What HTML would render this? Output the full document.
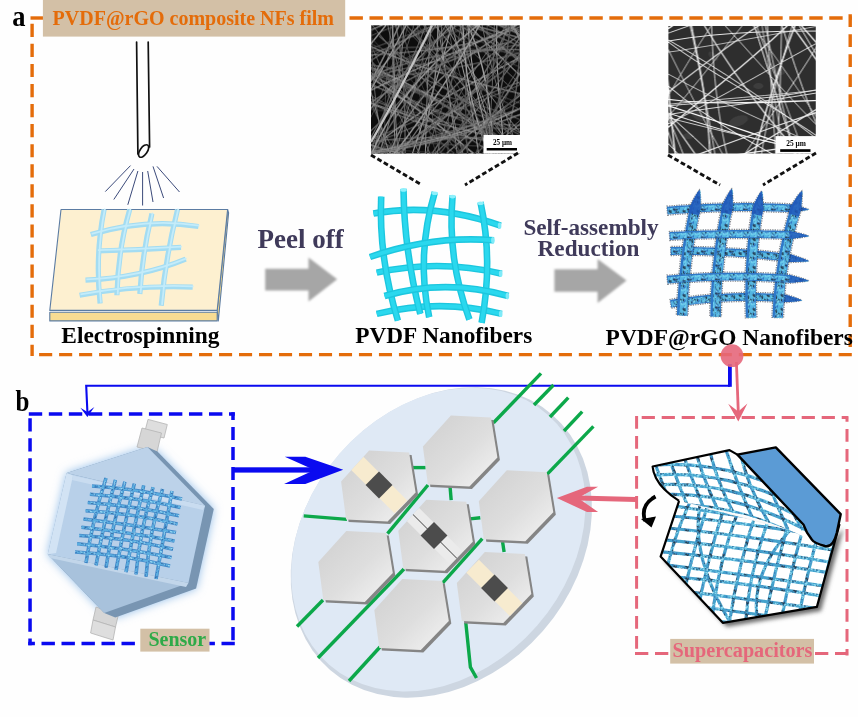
<!DOCTYPE html>
<html><head><meta charset="utf-8">
<style>
html,body{margin:0;padding:0;background:#fefefe;}
svg{display:block;will-change:transform;}
text{font-family:"Liberation Serif",serif;font-weight:bold;}
</style></head>
<body>
<svg width="858" height="717" viewBox="0 0 858 717">
<defs>
 <filter id="blur08" x="-30%" y="-30%" width="160%" height="160%"><feGaussianBlur stdDeviation="0.8"/></filter>
 <filter id="blur05" x="-30%" y="-30%" width="160%" height="160%"><feGaussianBlur stdDeviation="0.5"/></filter>
 <filter id="blur3" x="-30%" y="-30%" width="160%" height="160%"><feGaussianBlur stdDeviation="5"/></filter>
 <filter id="blur2" x="-30%" y="-30%" width="160%" height="160%"><feGaussianBlur stdDeviation="2"/></filter>
 <linearGradient id="hexg" x1="0" y1="0" x2="1" y2="1">
   <stop offset="0" stop-color="#cfcfcf"/><stop offset="0.55" stop-color="#dedede"/><stop offset="1" stop-color="#f4f4f4"/>
 </linearGradient>
 <linearGradient id="arrowg" x1="0" y1="0" x2="0" y2="1">
   <stop offset="0" stop-color="#a9a9a9"/><stop offset="1" stop-color="#a3a3a3"/>
 </linearGradient>
</defs>
<rect width="858" height="717" fill="#fefefe"/>

<g stroke="#e46c0a" stroke-width="3.4" fill="none">
 <line x1="30.5" y1="18" x2="43" y2="18"/>
 <line x1="349.5" y1="18" x2="851.8" y2="18" stroke-dasharray="13.4 6.59"/>
 <line x1="32.1" y1="23.8" x2="32.1" y2="355.9" stroke-dasharray="13.2 6.86"/>
 <line x1="39.1" y1="354.6" x2="851.8" y2="354.6" stroke-dasharray="13.1 6.89"/>
 <line x1="850.2" y1="14.3" x2="850.2" y2="347.7" stroke-dasharray="12.6 7.4"/>
</g>
<text x="12.3" y="25.9" font-size="26.5" transform="translate(12.3 25.9) scale(1 1.12) translate(-12.3 -25.9)" fill="#000">a</text>
<rect x="42.9" y="0" width="302.3" height="36.6" fill="#d3c0a6"/>
<text x="52.6" y="24.9" font-size="20" fill="#e46c0a">PVDF@rGO composite NFs film</text>

<g stroke="#111" stroke-width="1.7" fill="none" stroke-linecap="round">
 <line x1="136.6" y1="42" x2="137.9" y2="154"/>
 <line x1="148.2" y1="42" x2="149.6" y2="147"/>
 <ellipse cx="143.6" cy="151" rx="7.2" ry="3.6" transform="rotate(-55 143.6 151)"/>
</g>
<g stroke="#3b4a7a" stroke-width="1" fill="none">
 <line x1="130.5" y1="165.6" x2="105.3" y2="191.6"/>
 <line x1="134" y1="169" x2="113.8" y2="199.5"/>
 <line x1="137.9" y1="171" x2="127.8" y2="204.8"/>
 <line x1="142.6" y1="172" x2="142.6" y2="205.5"/>
 <line x1="147.7" y1="171" x2="153" y2="202"/>
 <line x1="153" y1="166.4" x2="163.6" y2="198"/>
 <line x1="157" y1="166.4" x2="179.5" y2="192"/>
</g>

<g stroke="#5b7ca3" stroke-width="1.1" stroke-linejoin="round">
 <polygon points="227.6,209.5 228.6,213 218.3,321 217.2,310.4" fill="#f5d887"/>
 <polygon points="49.8,312.3 217.2,312.3 217.2,320.9 49.8,320.9" fill="#f8dc93"/>
 <polygon points="61,209.5 227.6,209.5 217.2,310.4 49.8,310.4" fill="#fdf0d0"/>
</g>
<g stroke="#a3dcf2" stroke-width="5.2" fill="none" stroke-linecap="butt" filter="url(#blur05)">
 <path d="M104.1,209.5 Q95,255 100.1,303.4"/>
 <path d="M129.7,209.5 Q118,250 116.9,295.2"/>
 <path d="M151.9,213.6 Q142,255 139.8,294"/>
 <path d="M177.5,209.5 Q165,260 161.2,305.7"/>
 <path d="M90.8,234.6 Q145,218 198.5,226.5"/>
 <path d="M97.1,251 Q140,250 181,247.4"/>
 <path d="M85.5,280.1 Q140,278 185.7,259.1"/>
 <path d="M79.6,295.2 Q135,285 192.7,287.1"/>
</g>
<g stroke="#c4ecfa" stroke-width="1.8" fill="none" transform="translate(0.8 -0.8)" filter="url(#blur05)">
 <path d="M104.1,209.5 Q95,255 100.1,303.4"/>
 <path d="M129.7,209.5 Q118,250 116.9,295.2"/>
 <path d="M151.9,213.6 Q142,255 139.8,294"/>
 <path d="M177.5,209.5 Q165,260 161.2,305.7"/>
 <path d="M90.8,234.6 Q145,218 198.5,226.5"/>
 <path d="M97.1,251 Q140,250 181,247.4"/>
 <path d="M85.5,280.1 Q140,278 185.7,259.1"/>
 <path d="M79.6,295.2 Q135,285 192.7,287.1"/>
</g>

<polygon points="265.2,268.7 308.5,268.7 308.5,257.5 337.2,279.2 308.5,301.6 308.5,290.4 265.2,290.4" fill="#a6a6a6" filter="url(#blur08)"/>
<text x="257.5" y="247.5" font-size="27" fill="#3f3a5a">Peel off</text>
<polygon points="554.4,269.3 597.6,269.3 597.6,259 626.6,280.5 597.6,302.9 597.6,291.7 554.4,291.7" fill="#a6a6a6" filter="url(#blur08)"/>
<text x="523.4" y="234.5" font-size="23.2" fill="#3f3a5a">Self-assembly</text>
<text x="537.6" y="256.3" font-size="23.2" fill="#3f3a5a">Reduction</text>
<text x="61.3" y="342.5" font-size="23.4" fill="#000">Electrospinning</text>
<text x="355.2" y="343.2" font-size="23.3" fill="#000">PVDF Nanofibers</text>
<text x="605.6" y="344.7" font-size="23.4" fill="#000">PVDF@rGO Nanofibers</text>
<g filter="url(#blur05)">
<svg x="371" y="25.3" width="149" height="128.2" viewBox="0 0 149 128.2">
<rect width="149" height="128.2" fill="#0c0c0c"/>

<path d="M58.0,-49.8 C80.5,67.3 92.4,186.1 111.3,303.8" stroke="#959595" stroke-width="0.9" fill="none"/>
<path d="M-73.0,-14.7 C4.2,85.0 157.5,68.5 226.1,181.4" stroke="#787878" stroke-width="0.9" fill="none"/>
<path d="M-44.8,42.5 C87.7,14.5 165.1,174.3 298.4,143.0" stroke="#868686" stroke-width="0.9" fill="none"/>
<path d="M198.0,-166.2 C213.2,-31.3 58.9,34.5 63.1,165.0" stroke="#959595" stroke-width="0.7" fill="none"/>
<path d="M182.2,-37.2 C118.2,72.0 23.4,144.4 -91.9,192.4" stroke="#787878" stroke-width="1.4" fill="none"/>
<path d="M-174.4,84.5 C-55.0,73.1 63.9,95.1 183.1,89.6" stroke="#505050" stroke-width="0.7" fill="none"/>
<path d="M151.9,-118.0 C102.9,-5.4 54.9,107.9 -65.3,166.1" stroke="#505050" stroke-width="0.7" fill="none"/>
<path d="M78.0,-122.8 C53.7,10.3 105.2,119.0 188.1,217.4" stroke="#5c5c5c" stroke-width="0.9" fill="none"/>
<path d="M2.5,-49.8 C55.5,76.3 199.8,84.8 285.2,169.1" stroke="#5c5c5c" stroke-width="0.9" fill="none"/>
<path d="M172.8,-111.7 C96.4,-17.3 -51.8,-8.7 -101.6,117.5" stroke="#505050" stroke-width="0.7" fill="none"/>
<path d="M-53.6,-81.7 C57.1,-37.3 164.6,14.4 272.5,65.0" stroke="#a0a0a0" stroke-width="0.9" fill="none"/>
<path d="M-7.2,-77.9 C63.4,31.2 12.2,160.6 51.6,274.8" stroke="#5c5c5c" stroke-width="1.4" fill="none"/>
<path d="M-18.1,-143.3 C-52.6,-11.5 -0.5,98.2 70.0,203.3" stroke="#787878" stroke-width="0.7" fill="none"/>
<path d="M-84.4,6.7 C-2.6,95.6 138.0,109.1 197.7,226.5" stroke="#6a6a6a" stroke-width="0.9" fill="none"/>
<path d="M-41.0,-95.3 C-64.7,30.3 18.2,136.1 24.3,256.2" stroke="#5c5c5c" stroke-width="0.7" fill="none"/>
<path d="M-44.1,-116.7 C61.6,-58.6 134.4,42.2 239.3,101.3" stroke="#6a6a6a" stroke-width="1.4" fill="none"/>
<path d="M167.5,-42.7 C55.5,1.9 -25.3,100.1 -141.6,137.1" stroke="#6a6a6a" stroke-width="0.9" fill="none"/>
<path d="M133.1,-52.6 C49.8,33.0 -41.9,111.5 -99.5,219.0" stroke="#868686" stroke-width="1.4" fill="none"/>
<path d="M118.4,-164.0 C141.5,-30.4 -19.2,41.2 4.1,174.8" stroke="#6a6a6a" stroke-width="1.4" fill="none"/>
<path d="M5.6,-50.8 C108.9,15.3 203.2,90.0 252.8,207.6" stroke="#a0a0a0" stroke-width="0.7" fill="none"/>
<path d="M-93.9,17.7 C9.8,78.8 149.0,54.9 235.9,156.0" stroke="#6a6a6a" stroke-width="0.9" fill="none"/>
<path d="M127.7,-75.9 C68.6,33.5 4.7,138.0 -124.3,177.8" stroke="#787878" stroke-width="1.1" fill="none"/>
<path d="M171.8,-174.3 C210.6,-50.7 155.6,63.7 137.1,181.6" stroke="#787878" stroke-width="0.9" fill="none"/>
<path d="M195.9,-111.4 C181.9,8.7 154.8,124.9 96.3,232.1" stroke="#5c5c5c" stroke-width="0.7" fill="none"/>
<path d="M57.0,-170.4 C46.0,-48.8 33.0,72.2 -51.7,170.3" stroke="#5c5c5c" stroke-width="0.7" fill="none"/>
<path d="M25.9,-180.3 C-17.0,-53.4 28.1,60.4 78.4,173.5" stroke="#6a6a6a" stroke-width="1.1" fill="none"/>
<path d="M25.5,-36.3 C32.6,93.6 142.9,171.6 186.0,283.3" stroke="#505050" stroke-width="0.7" fill="none"/>
<path d="M249.4,8.3 C147.9,72.8 27.8,96.9 -75.8,157.0" stroke="#959595" stroke-width="0.7" fill="none"/>
<path d="M-75.1,92.6 C27.1,173.8 147.8,183.0 271.2,181.8" stroke="#868686" stroke-width="1.4" fill="none"/>
<path d="M98.5,-173.3 C86.2,-49.6 207.4,48.8 164.9,178.1" stroke="#959595" stroke-width="0.7" fill="none"/>
<path d="M18.2,-85.0 C25.7,34.0 16.5,153.9 39.6,272.0" stroke="#868686" stroke-width="1.1" fill="none"/>
<path d="M221.6,-45.9 C103.7,-22.7 -5.1,27.8 -117.2,68.4" stroke="#505050" stroke-width="1.1" fill="none"/>
<path d="M150.8,-34.5 C114.6,81.6 15.6,163.2 -21.4,278.8" stroke="#6a6a6a" stroke-width="1.4" fill="none"/>
<path d="M263.4,-83.7 C189.3,17.9 91.6,86.2 -28.3,123.1" stroke="#787878" stroke-width="0.9" fill="none"/>
<path d="M-88.8,39.9 C-0.6,133.8 115.9,165.7 236.6,188.2" stroke="#787878" stroke-width="0.9" fill="none"/>
<path d="M-98.0,65.1 C-2.3,150.0 131.3,132.5 237.3,189.3" stroke="#959595" stroke-width="1.4" fill="none"/>
<path d="M203.1,-38.5 C126.8,54.7 101.9,178.8 19.0,268.1" stroke="#505050" stroke-width="0.7" fill="none"/>
<path d="M-22.1,-46.6 C77.9,25.1 146.6,123.1 207.5,227.6" stroke="#a0a0a0" stroke-width="0.7" fill="none"/>
<path d="M135.1,-143.4 C50.0,-51.9 62.5,86.0 -18.2,179.7" stroke="#505050" stroke-width="0.9" fill="none"/>
<path d="M299.9,-99.4 C236.8,15.5 105.5,38.6 12.7,113.6" stroke="#a0a0a0" stroke-width="1.1" fill="none"/>
<path d="M283.0,-3.7 C165.2,15.2 52.4,71.9 -71.6,42.8" stroke="#5c5c5c" stroke-width="1.4" fill="none"/>
<path d="M15.6,-154.2 C-36.1,-39.9 -15.9,82.2 -23.4,201.3" stroke="#959595" stroke-width="0.9" fill="none"/>
<path d="M65.1,-44.6 C158.9,49.0 86.2,200.5 182.5,293.2" stroke="#a0a0a0" stroke-width="1.4" fill="none"/>
<path d="M-97.5,11.7 C-10.8,111.7 128.2,90.5 230.8,153.7" stroke="#959595" stroke-width="1.1" fill="none"/>
<path d="M79.7,-157.3 C62.4,-35.3 62.6,84.6 120.4,198.0" stroke="#a0a0a0" stroke-width="0.7" fill="none"/>
<path d="M2.0,24.3 C53.9,150.7 185.6,176.4 282.2,246.4" stroke="#505050" stroke-width="1.1" fill="none"/>
<path d="M-10.2,-138.7 C70.4,-50.9 199.4,-8.1 233.0,123.4" stroke="#787878" stroke-width="1.4" fill="none"/>
<path d="M205.8,-124.8 C88.1,-77.8 68.5,79.4 -61.1,113.2" stroke="#505050" stroke-width="0.7" fill="none"/>
<path d="M-106.5,14.4 C21.6,32.9 123.1,95.5 199.7,199.2" stroke="#959595" stroke-width="1.4" fill="none"/>
<path d="M249.5,100.3 C141.8,177.7 21.1,179.2 -103.0,161.0" stroke="#959595" stroke-width="1.1" fill="none"/>
<path d="M239.1,-76.1 C135.3,-17.5 4.6,-4.7 -69.3,104.8" stroke="#787878" stroke-width="1.1" fill="none"/>
<path d="M243.0,-34.6 C168.8,59.9 144.3,184.2 59.7,272.5" stroke="#6a6a6a" stroke-width="1.1" fill="none"/>
<path d="M64.6,-104.7 C37.1,11.3 -3.9,124.1 -16.7,243.5" stroke="#5c5c5c" stroke-width="0.7" fill="none"/>
<path d="M66.7,-69.9 C51.9,48.8 56.0,168.3 48.7,287.3" stroke="#a0a0a0" stroke-width="0.9" fill="none"/>
<path d="M-93.9,14.6 C9.6,101.7 127.2,121.6 256.0,88.1" stroke="#787878" stroke-width="0.9" fill="none"/>
<path d="M-3.6,-123.9 C-37.6,-1.4 -39.4,118.4 26.5,232.4" stroke="#868686" stroke-width="1.1" fill="none"/>
<path d="M-107.6,-65.5 C16.0,-57.2 107.6,41.0 229.4,54.2" stroke="#5c5c5c" stroke-width="0.7" fill="none"/>
<path d="M-118.2,-10.6 C-6.2,37.3 88.9,109.4 175.0,194.2" stroke="#959595" stroke-width="1.4" fill="none"/>
<path d="M-55.7,-49.7 C56.7,-9.7 181.2,-5.6 282.7,66.1" stroke="#6a6a6a" stroke-width="1.4" fill="none"/>
<path d="M-81.3,99.2 C36.4,124.1 156.0,122.0 275.3,125.3" stroke="#505050" stroke-width="0.9" fill="none"/>
<path d="M150.5,-97.4 C89.7,16.7 165.6,143.5 117.2,258.7" stroke="#a0a0a0" stroke-width="1.1" fill="none"/>
<path d="M213.9,-17.1 C82.4,-37.7 -1.6,92.3 -127.1,90.5" stroke="#6a6a6a" stroke-width="0.7" fill="none"/>
<path d="M-132.8,24.6 C-10.2,42.6 107.9,70.5 193.7,170.7" stroke="#505050" stroke-width="1.4" fill="none"/>
<path d="M133.4,-157.4 C99.4,-41.7 59.6,73.1 84.9,196.9" stroke="#5c5c5c" stroke-width="0.9" fill="none"/>
<path d="M89.4,-62.8 C82.4,57.7 9.5,163.6 11.5,286.2" stroke="#a0a0a0" stroke-width="1.1" fill="none"/>
<path d="M107.4,-160.8 C166.5,-41.1 160.5,78.1 104.3,196.8" stroke="#5c5c5c" stroke-width="1.4" fill="none"/>
<path d="M-139.0,-59.2 C-53.4,36.4 44.1,108.2 181.4,99.7" stroke="#a0a0a0" stroke-width="0.7" fill="none"/>
<path d="M57.1,-82.3 C84.8,47.8 52.6,162.7 -31.6,264.1" stroke="#868686" stroke-width="1.4" fill="none"/>
<path d="M9.0,-152.9 C53.6,-40.9 45.3,83.4 90.9,195.2" stroke="#5c5c5c" stroke-width="0.9" fill="none"/>
<path d="M-83.9,3.2 C23.7,56.3 139.9,95.8 217.3,196.0" stroke="#6a6a6a" stroke-width="0.7" fill="none"/>
<path d="M-0.3,-56.3 C-47.2,61.2 -38.4,180.8 -14.4,301.0" stroke="#505050" stroke-width="1.4" fill="none"/>
<path d="M61.1,-97.9 C56.9,23.3 -26.5,126.8 -16.6,251.2" stroke="#787878" stroke-width="0.7" fill="none"/>
<path d="M245.7,-17.9 C172.4,77.0 40.1,115.0 -2.7,239.4" stroke="#959595" stroke-width="1.1" fill="none"/>
<path d="M252.4,-69.3 C142.9,-12.9 115.1,134.7 -13.8,169.5" stroke="#787878" stroke-width="1.1" fill="none"/>
<path d="M-25.7,-135.2 C-33.4,-14.7 -19.7,103.7 9.3,220.6" stroke="#6a6a6a" stroke-width="1.1" fill="none"/>
<path d="M278.7,9.1 C157.4,7.7 42.2,40.8 -73.5,71.0" stroke="#959595" stroke-width="0.7" fill="none"/>
<path d="M98.2,-83.0 C112.2,38.7 144.8,153.7 219.8,253.3" stroke="#959595" stroke-width="0.7" fill="none"/>
<path d="M-159.0,-38.0 C-44.7,-3.3 63.8,46.8 175.6,88.2" stroke="#505050" stroke-width="0.9" fill="none"/>
<path d="M72.0,-131.5 C46.6,-10.9 -15.0,91.6 -88.4,188.1" stroke="#959595" stroke-width="1.4" fill="none"/>
<path d="M263.8,119.0 C143.3,112.1 22.2,100.5 -91.9,155.9" stroke="#5c5c5c" stroke-width="0.7" fill="none"/>
<path d="M86.2,-120.3 C66.1,14.3 122.8,120.4 211.1,214.7" stroke="#959595" stroke-width="0.7" fill="none"/>
<path d="M34.3,-142.3 C74.4,-29.1 112.3,84.5 112.8,206.6" stroke="#959595" stroke-width="1.1" fill="none"/>
<path d="M26.2,-50.8 C9.6,69.4 4.1,189.1 45.0,306.3" stroke="#5c5c5c" stroke-width="0.7" fill="none"/>
<path d="M224.0,-33.4 C142.4,54.4 27.1,103.4 -46.0,201.0" stroke="#5c5c5c" stroke-width="1.1" fill="none"/>
<path d="M124.3,9.5 C-3.8,50.4 -1.0,220.9 -127.3,263.6" stroke="#6a6a6a" stroke-width="1.4" fill="none"/>
<path d="M146.0,-36.1 C119.4,96.4 38.0,183.7 -81.2,240.0" stroke="#505050" stroke-width="1.4" fill="none"/>
<path d="M-8.5,-52.0 C86.0,26.2 233.4,-4.1 313.0,104.7" stroke="#868686" stroke-width="1.4" fill="none"/>
<path d="M-31.1,-21.9 C97.5,-23.8 198.0,46.6 302.2,107.6" stroke="#6a6a6a" stroke-width="1.4" fill="none"/>
<path d="M9.4,-100.8 C37.2,15.7 4.1,140.7 59.2,253.3" stroke="#959595" stroke-width="0.9" fill="none"/>
<path d="M290.9,-1.2 C181.0,70.0 47.0,-20.2 -62.7,51.8" stroke="#505050" stroke-width="1.1" fill="none"/>
<path d="M-23.2,-38.4 C33.1,70.3 164.8,114.5 209.3,233.3" stroke="#787878" stroke-width="0.9" fill="none"/>
<path d="M-115.9,34.8 C-49.9,149.9 51.6,212.5 180.0,235.6" stroke="#5c5c5c" stroke-width="0.7" fill="none"/>
<path d="M-144.9,-11.3 C-23.8,-72.4 94.6,-43.1 212.6,-0.7" stroke="#787878" stroke-width="0.7" fill="none"/>
<path d="M273.0,-110.3 C213.0,-0.8 54.6,6.7 15.6,137.9" stroke="#868686" stroke-width="1.4" fill="none"/>
<path d="M-32.0,-97.1 C66.8,-12.9 27.1,139.6 126.3,223.6" stroke="#505050" stroke-width="0.7" fill="none"/>
<path d="M99.5,-62.2 C82.0,61.6 146.4,171.7 158.4,290.5" stroke="#a0a0a0" stroke-width="1.1" fill="none"/>
<path d="M-45.0,-155.5 C-49.0,-27.4 22.9,73.4 76.0,181.0" stroke="#787878" stroke-width="0.9" fill="none"/>
<path d="M12.1,-169.8 C-12.2,-41.9 123.3,49.1 92.7,178.6" stroke="#5c5c5c" stroke-width="1.4" fill="none"/>
<path d="M107.8,-83.6 C111.5,38.8 22.2,142.2 36.1,266.7" stroke="#5c5c5c" stroke-width="1.1" fill="none"/>
<path d="M-38.3,-108.9 C72.2,-56.4 129.1,63.8 242.0,113.1" stroke="#a0a0a0" stroke-width="1.1" fill="none"/>
<path d="M-98.6,-95.8 C-48.0,16.7 66.2,77.5 126.9,181.8" stroke="#5c5c5c" stroke-width="1.1" fill="none"/>
<path d="M195.5,-15.4 C73.9,41.3 4.0,137.9 -23.1,267.7" stroke="#868686" stroke-width="1.1" fill="none"/>
<path d="M4.0,-43.8 C-12.3,78.5 32.9,192.8 50.8,310.7" stroke="#5c5c5c" stroke-width="1.1" fill="none"/>
<path d="M147.6,-1.4 C39.1,49.6 -78.4,85.3 -159.4,182.1" stroke="#a0a0a0" stroke-width="1.1" fill="none"/>
<path d="M225.0,7.5 C124.0,71.4 60.4,185.8 -62.3,220.4" stroke="#505050" stroke-width="1.4" fill="none"/>
<path d="M204.0,-72.1 C92.2,-30.5 -20.2,9.3 -128.9,58.6" stroke="#959595" stroke-width="1.1" fill="none"/>
<path d="M277.9,90.4 C165.7,163.6 40.1,109.0 -77.8,128.0" stroke="#505050" stroke-width="0.7" fill="none"/>
<path d="M-52.6,-149.6 C29.3,-59.1 123.5,24.4 125.1,160.8" stroke="#a0a0a0" stroke-width="0.9" fill="none"/>
<path d="M-42.5,-1.3 C62.2,62.9 185.2,69.0 298.4,106.4" stroke="#959595" stroke-width="1.1" fill="none"/>
<path d="M188.8,-80.4 C56.5,-48.5 -3.7,62.4 -75.5,160.5" stroke="#868686" stroke-width="1.4" fill="none"/>
<path d="M132.8,-82.6 C61.1,29.0 117.3,155.6 90.9,272.5" stroke="#505050" stroke-width="1.1" fill="none"/>
<path d="M286.4,34.2 C155.4,38.4 44.3,82.6 -34.0,193.0" stroke="#a0a0a0" stroke-width="0.7" fill="none"/>
<path d="M123.4,-69.4 C125.4,50.3 116.6,169.2 96.6,287.2" stroke="#6a6a6a" stroke-width="0.9" fill="none"/>
<path d="M280.4,-84.2 C232.2,34.3 146.6,117.4 34.6,175.5" stroke="#868686" stroke-width="1.1" fill="none"/>
<path d="M23.2,-75.7 C76.4,35.7 199.5,87.1 256.3,195.5" stroke="#6a6a6a" stroke-width="0.9" fill="none"/>
<path d="M289.3,-56.2 C175.3,-21.1 48.5,-31.7 -54.8,41.2" stroke="#787878" stroke-width="0.7" fill="none"/>
<path d="M-94.7,-26.8 C-5.9,53.9 101.5,108.7 196.2,181.2" stroke="#959595" stroke-width="0.9" fill="none"/>
<path d="M108.7,-126.2 C73.8,1.5 91.8,119.4 173.6,225.5" stroke="#a0a0a0" stroke-width="1.4" fill="none"/>
<path d="M232.1,-29.8 C97.0,-34.0 8.6,56.1 -88.2,129.1" stroke="#505050" stroke-width="0.7" fill="none"/>
<path d="M17.6,-181.2 C-38.5,-58.7 -11.5,59.2 37.1,175.9" stroke="#868686" stroke-width="1.1" fill="none"/>
<path d="M140.3,16.4 C12.6,47.0 -79.4,122.7 -140.7,237.6" stroke="#787878" stroke-width="1.4" fill="none"/>
<path d="M254.1,-26.7 C187.0,82.8 91.3,153.9 -33.0,186.4" stroke="#787878" stroke-width="0.9" fill="none"/>
<path d="M14.3,-63.6 C82.1,36.3 127.5,157.2 259.5,196.6" stroke="#787878" stroke-width="0.7" fill="none"/>
<path d="M-39.0,-91.3 C46.6,3.1 151.2,60.5 279.3,71.7" stroke="#505050" stroke-width="0.9" fill="none"/>
<path d="M-137.2,50.4 C-7.6,26.4 93.9,108.8 208.5,142.0" stroke="#868686" stroke-width="0.7" fill="none"/>
<path d="M266.2,92.1 C152.0,136.0 24.5,85.3 -87.9,142.0" stroke="#868686" stroke-width="0.9" fill="none"/>
<path d="M178.1,66.2 C73.5,136.5 -53.8,122.0 -167.4,158.7" stroke="#959595" stroke-width="1.4" fill="none"/>
<path d="M-26.7,-48.8 C90.7,-15.5 211.3,12.2 288.0,121.1" stroke="#787878" stroke-width="1.4" fill="none"/>
<path d="M91.0,-153.7 C74.8,-25.3 -48.9,40.8 -88.3,155.7" stroke="#a0a0a0" stroke-width="1.4" fill="none"/>
<path d="M247.7,-119.7 C169.7,-29.2 44.5,15.0 -2.5,135.8" stroke="#a0a0a0" stroke-width="1.4" fill="none"/>
<path d="M-46.0,-63.5 C88.1,-32.9 82.4,148.9 216.6,179.2" stroke="#505050" stroke-width="0.9" fill="none"/>
<path d="M186.0,28.6 C53.8,6.6 -51.7,67.9 -154.6,137.5" stroke="#787878" stroke-width="1.4" fill="none"/>
<path d="M35.8,-158.1 C32.1,-37.7 48.2,86.1 -26.4,194.0" stroke="#787878" stroke-width="1.1" fill="none"/>
<path d="M147.4,-136.2 C79.1,-28.3 156.6,108.8 77.3,214.5" stroke="#6a6a6a" stroke-width="0.7" fill="none"/>
<path d="M-67.2,-55.2 C59.2,-46.7 177.2,-19.0 260.3,88.3" stroke="#868686" stroke-width="0.7" fill="none"/>
<path d="M-174.5,80.9 C-58.3,109.0 40.3,190.9 165.4,191.8" stroke="#787878" stroke-width="1.4" fill="none"/>
<path d="M187.6,-20.3 C82.8,54.9 -50.6,7.9 -160.6,61.2" stroke="#868686" stroke-width="1.1" fill="none"/>
<path d="M268.7,54.0 C149.2,67.8 43.7,137.1 -78.1,141.5" stroke="#505050" stroke-width="0.9" fill="none"/>
<path d="M179.1,-163.9 C142.3,-48.0 83.5,55.6 6.6,149.4" stroke="#a0a0a0" stroke-width="1.4" fill="none"/>
<path d="M-115.1,6.9 C-15.7,84.1 95.2,128.0 222.7,124.1" stroke="#959595" stroke-width="0.9" fill="none"/>
<path d="M-43.8,-93.7 C66.1,-34.4 111.5,87.8 205.9,162.2" stroke="#959595" stroke-width="0.9" fill="none"/>
<path d="M64.8,-45.6 C-30.6,54.2 -18.4,179.7 -17.8,302.3" stroke="#6a6a6a" stroke-width="0.7" fill="none"/>
<path d="M93.0,-162.4 C79.6,-38.7 -9.6,53.1 -46.1,167.1" stroke="#a0a0a0" stroke-width="1.1" fill="none"/>
<path d="M55.6,-110.1 C121.0,-10.3 222.7,67.8 238.4,197.2" stroke="#a0a0a0" stroke-width="0.9" fill="none"/>
<path d="M-44.6,-50.9 C84.2,-14.4 90.2,154.1 217.1,192.8" stroke="#6a6a6a" stroke-width="1.1" fill="none"/>
<path d="M66.8,-57.6 C57.5,64.9 -60.7,151.4 -45.3,282.0" stroke="#6a6a6a" stroke-width="1.1" fill="none"/>
<path d="M175.5,-19.5 C102.8,92.1 3.2,157.9 -132.8,161.8" stroke="#6a6a6a" stroke-width="0.9" fill="none"/>
<path d="M1.8,-47.8 C83.2,40.9 126.7,155.7 205.0,246.5" stroke="#505050" stroke-width="0.7" fill="none"/>
<path d="M-97.4,-90.5 C5.4,-30.1 137.5,-23.6 216.7,80.3" stroke="#868686" stroke-width="0.9" fill="none"/>
<path d="M-75.8,-129.5 C-69.7,4.0 96.0,47.3 100.2,181.8" stroke="#505050" stroke-width="0.7" fill="none"/>
<path d="M237.8,-87.4 C161.6,4.2 127.6,131.2 8.4,186.9" stroke="#787878" stroke-width="1.4" fill="none"/>
<path d="M313.8,16.7 C204.9,67.0 97.6,121.7 -25.2,130.7" stroke="#868686" stroke-width="1.4" fill="none"/>
<path d="M162.3,-86.4 C28.6,-76.5 -28.6,58.4 -142.7,100.4" stroke="#959595" stroke-width="1.4" fill="none"/>
<path d="M-50.2,-48.8 C7.0,59.6 -6.9,186.2 38.4,297.7" stroke="#868686" stroke-width="1.4" fill="none"/>
<path d="M171.0,-135.3 C122.6,-25.6 156.5,110.2 63.1,205.6" stroke="#5c5c5c" stroke-width="1.4" fill="none"/>
<path d="M8.1,10.8 C96.7,90.6 218.8,135.3 267.0,257.5" stroke="#6a6a6a" stroke-width="1.1" fill="none"/>
<path d="M233.5,-37.2 C115.5,34.8 92.2,157.6 64.3,277.9" stroke="#505050" stroke-width="1.1" fill="none"/>
<path d="M224.5,36.5 C131.5,120.6 -7.3,102.1 -102.1,182.2" stroke="#959595" stroke-width="0.7" fill="none"/>
<path d="M177.3,54.0 C79.3,139.9 -51.8,120.2 -164.0,160.9" stroke="#868686" stroke-width="0.7" fill="none"/>
<path d="M6.2,-149.8 C114.3,-81.7 155.3,36.4 219.9,136.9" stroke="#868686" stroke-width="1.4" fill="none"/>
<path d="M-54.5,-52.6 C64.8,-25.9 163.5,44.1 268.5,101.0" stroke="#787878" stroke-width="1.1" fill="none"/>
<path d="M-79.5,-47.2 C-50.0,74.6 0.3,183.7 107.9,257.4" stroke="#6a6a6a" stroke-width="1.1" fill="none"/>
<path d="M268.6,-77.9 C171.9,-3.5 31.6,-21.1 -54.5,75.4" stroke="#868686" stroke-width="0.7" fill="none"/>
<path d="M-14.7,45.6 C109.0,71.1 180.3,184.1 292.0,229.4" stroke="#6a6a6a" stroke-width="0.7" fill="none"/>
<path d="M123.0,-48.1 C11.3,28.7 42.9,178.7 -39.5,270.5" stroke="#868686" stroke-width="0.9" fill="none"/>
</svg>
<path d="M371,142 C390,110 410,70 432,25.3" stroke="#c4c4c4" stroke-width="2.2" fill="none"/>
<svg x="668.4" y="26" width="147.60000000000002" height="127.5" viewBox="0 0 147.60000000000002 127.5">
<rect width="147.60000000000002" height="127.5" fill="#2e2e2e"/>
<ellipse cx="30" cy="90" rx="8" ry="4" fill="#3e3e3e" transform="rotate(30 30 90)"/><ellipse cx="70" cy="95" rx="10" ry="5" fill="#3e3e3e" transform="rotate(-20 70 95)"/><ellipse cx="45" cy="30" rx="6" ry="3" fill="#3e3e3e" transform="rotate(40 45 30)"/><ellipse cx="110" cy="45" rx="7" ry="4" fill="#3e3e3e" transform="rotate(10 110 45)"/><ellipse cx="90" cy="60" rx="5" ry="3" fill="#3e3e3e" transform="rotate(0 90 60)"/><ellipse cx="20" cy="110" rx="6" ry="3" fill="#3e3e3e" transform="rotate(0 20 110)"/>
<path d="M314.4,-26.1 C196.8,-13.5 82.2,17.1 -35.2,30.8" stroke="#d8d8d8" stroke-width="0.8" fill="none"/>
<path d="M-125.9,-50.4 C-68.0,56.3 52.3,107.0 110.6,213.4" stroke="#ffffff" stroke-width="1" fill="none"/>
<path d="M7.9,-117.5 C107.4,-46.0 163.4,60.5 230.5,158.1" stroke="#f2f2f2" stroke-width="1.3" fill="none"/>
<path d="M0.7,-63.4 C56.3,43.8 125.4,139.9 225.7,210.2" stroke="#d8d8d8" stroke-width="1.3" fill="none"/>
<path d="M166.7,-156.3 C141.0,-41.0 93.2,69.1 86.2,188.7" stroke="#f2f2f2" stroke-width="0.8" fill="none"/>
<path d="M121.5,-109.4 C103.3,7.4 125.7,128.5 84.2,242.8" stroke="#ffffff" stroke-width="0.8" fill="none"/>
<path d="M211.0,43.9 C100.1,92.9 -26.2,60.6 -137.0,110.2" stroke="#d8d8d8" stroke-width="1" fill="none"/>
<path d="M-113.9,-22.9 C-43.2,72.8 31.9,164.3 129.8,234.1" stroke="#f2f2f2" stroke-width="1" fill="none"/>
<path d="M260.7,84.7 C152.3,137.1 23.8,112.2 -82.0,174.2" stroke="#e6e6e6" stroke-width="1.3" fill="none"/>
<path d="M142.1,-39.6 C96.6,71.4 62.2,184.8 68.3,306.9" stroke="#ffffff" stroke-width="1.3" fill="none"/>
<path d="M-64.3,-61.4 C-25.7,50.2 42.4,151.7 49.7,274.0" stroke="#d8d8d8" stroke-width="1" fill="none"/>
<path d="M194.1,-89.7 C129.2,13.0 21.8,71.9 -60.2,156.9" stroke="#f2f2f2" stroke-width="1.3" fill="none"/>
<path d="M179.8,-46.0 C66.0,-3.9 -14.6,88.2 -115.0,150.5" stroke="#d8d8d8" stroke-width="1.3" fill="none"/>
<path d="M287.7,-6.4 C192.6,63.9 83.4,112.8 -7.6,189.3" stroke="#f2f2f2" stroke-width="1.3" fill="none"/>
<path d="M-58.4,-35.1 C22.4,54.0 147.1,84.6 225.1,177.3" stroke="#f2f2f2" stroke-width="1" fill="none"/>
<path d="M178.7,-118.9 C92.5,-37.5 31.8,66.3 -54.5,147.7" stroke="#e6e6e6" stroke-width="0.8" fill="none"/>
<path d="M299.6,112.3 C184.6,143.7 67.0,154.8 -51.6,159.3" stroke="#e6e6e6" stroke-width="0.8" fill="none"/>
<path d="M69.2,-174.3 C94.8,-58.5 124.5,55.9 176.8,163.2" stroke="#e6e6e6" stroke-width="1" fill="none"/>
<path d="M94.5,-107.3 C97.9,10.8 107.3,128.6 116.5,246.3" stroke="#d8d8d8" stroke-width="1" fill="none"/>
<path d="M-33.7,69.9 C80.1,101.4 188.6,151.9 307.6,164.8" stroke="#ffffff" stroke-width="1.3" fill="none"/>
<path d="M87.0,-126.2 C77.2,-6.6 125.7,107.3 121.4,226.4" stroke="#d8d8d8" stroke-width="0.8" fill="none"/>
<path d="M-77.5,-26.3 C30.4,24.8 127.9,91.4 217.6,169.6" stroke="#e6e6e6" stroke-width="1" fill="none"/>
<path d="M15.0,-60.4 C27.6,57.0 67.7,171.4 53.4,291.8" stroke="#ffffff" stroke-width="0.8" fill="none"/>
<path d="M-75.3,-56.6 C-2.7,40.5 3.2,166.9 67.7,267.5" stroke="#ffffff" stroke-width="0.8" fill="none"/>
<path d="M-75.9,-138.9 C-27.1,-31.2 22.1,76.2 82.6,178.0" stroke="#e6e6e6" stroke-width="0.8" fill="none"/>
<path d="M46.9,-134.5 C112.8,-32.2 95.4,98.5 160.9,200.9" stroke="#f2f2f2" stroke-width="0.8" fill="none"/>
<path d="M191.0,-55.6 C75.3,-30.8 -29.3,33.3 -149.8,41.3" stroke="#d8d8d8" stroke-width="1" fill="none"/>
<path d="M16.9,-144.6 C113.4,-69.4 144.1,55.1 229.6,138.7" stroke="#e6e6e6" stroke-width="1" fill="none"/>
<path d="M-65.6,-19.0 C-34.1,99.9 41.0,192.5 117.4,284.3" stroke="#f2f2f2" stroke-width="1.3" fill="none"/>
<path d="M275.0,34.6 C162.9,76.4 42.4,75.5 -72.7,102.3" stroke="#d8d8d8" stroke-width="1" fill="none"/>
<path d="M331.5,-1.3 C214.1,14.0 94.6,-6.6 -22.2,19.4" stroke="#e6e6e6" stroke-width="1" fill="none"/>
<path d="M66.9,-69.6 C94.2,45.3 145.8,153.9 155.9,273.3" stroke="#ffffff" stroke-width="1" fill="none"/>
<path d="M32.5,-72.3 C101.2,24.0 174.7,117.1 223.4,226.1" stroke="#d8d8d8" stroke-width="0.8" fill="none"/>
<path d="M-11.2,-63.3 C3.7,53.9 -3.2,175.0 49.2,285.7" stroke="#ffffff" stroke-width="1.3" fill="none"/>
<path d="M49.2,-158.5 C39.9,-39.2 35.1,79.7 78.3,194.6" stroke="#ffffff" stroke-width="0.8" fill="none"/>
<path d="M-90.7,-107.0 C-62.1,12.3 9.8,107.4 82.1,202.2" stroke="#d8d8d8" stroke-width="1.3" fill="none"/>
<path d="M31.9,-167.6 C65.5,-54.2 109.7,55.4 150.0,166.4" stroke="#e6e6e6" stroke-width="0.8" fill="none"/>
<path d="M-3.1,-116.2 C105.1,-58.1 165.2,49.5 250.8,130.9" stroke="#f2f2f2" stroke-width="1.3" fill="none"/>
<path d="M279.5,-43.4 C167.6,-3.2 70.6,66.9 -37.1,115.5" stroke="#d8d8d8" stroke-width="1" fill="none"/>
<path d="M-54.2,61.7 C61.6,97.9 183.1,53.9 299.2,86.4" stroke="#f2f2f2" stroke-width="1.3" fill="none"/>
<path d="M144.6,-117.5 C50.2,-39.6 3.1,71.8 -60.5,171.4" stroke="#e6e6e6" stroke-width="0.8" fill="none"/>
<path d="M271.4,41.7 C156.6,73.4 36.7,68.3 -79.6,89.2" stroke="#e6e6e6" stroke-width="0.8" fill="none"/>
<path d="M188.8,-68.3 C154.5,47.6 54.5,127.3 18.2,242.1" stroke="#ffffff" stroke-width="0.8" fill="none"/>
<path d="M201.6,70.6 C87.4,101.3 -19.9,152.9 -134.5,182.7" stroke="#e6e6e6" stroke-width="1.3" fill="none"/>
<path d="M-45.7,-179.1 C7.3,-70.7 45.1,41.6 41.0,164.4" stroke="#ffffff" stroke-width="0.8" fill="none"/>
<path d="M-126.6,43.9 C-14.4,81.5 95.9,126.4 216.0,133.9" stroke="#f2f2f2" stroke-width="1" fill="none"/>
<path d="M155.8,-95.4 C57.7,-29.4 -53.3,19.3 -127.9,116.7" stroke="#ffffff" stroke-width="1.3" fill="none"/>
<path d="M-152.7,45.4 C-41.0,85.0 74.1,111.5 190.2,134.3" stroke="#f2f2f2" stroke-width="0.8" fill="none"/>
<path d="M-33.4,27.0 C45.5,119.5 173.5,143.7 254.2,233.8" stroke="#ffffff" stroke-width="1" fill="none"/>
<path d="M-24.0,-77.1 C69.1,-3.5 130.9,102.5 231.2,168.7" stroke="#f2f2f2" stroke-width="0.8" fill="none"/>
<path d="M-6.1,-104.5 C26.7,10.3 56.4,125.5 39.6,246.8" stroke="#e6e6e6" stroke-width="0.8" fill="none"/>
<path d="M-73.0,2.2 C23.4,72.8 138.2,107.9 241.3,165.7" stroke="#e6e6e6" stroke-width="0.8" fill="none"/>
</svg>
</g>
<rect x="483.5" y="135" width="36.5" height="18.5" fill="#fefefe"/>
<text x="493" y="144.9" font-size="7.2" fill="#000">25 μm</text>
<rect x="486.7" y="148" width="30.3" height="2.5" fill="#000"/>
<rect x="775.5" y="136.1" width="40.5" height="17.4" fill="#fefefe"/>
<text x="786.3" y="146.2" font-size="7.4" fill="#000">25 μm</text>
<rect x="780.2" y="149.2" width="30.3" height="2.7" fill="#000"/>

<g stroke="#111" stroke-width="2.9" stroke-dasharray="4.8 2.6" fill="none">
 <line x1="371" y1="155" x2="422" y2="185"/>
 <line x1="518" y1="153" x2="465" y2="185"/>
 <line x1="668" y1="155" x2="720" y2="185"/>
 <line x1="816" y1="153" x2="763" y2="185"/>
</g>

<g filter="url(#blur05)">
<path d="M373.4,213.5 Q435,202.4 500.6,225.7" stroke="#1cc6de" stroke-width="6.6" fill="none"/><path d="M373.4,213.5 Q435,202.4 500.6,225.7" stroke="#2ad8ee" stroke-width="3.9599999999999995" fill="none"/>
<path d="M376.7,272.6 Q438.8,258.85 501.7,273.7" stroke="#1cc6de" stroke-width="6.6" fill="none"/><path d="M376.7,272.6 Q438.8,258.85 501.7,273.7" stroke="#2ad8ee" stroke-width="3.9599999999999995" fill="none"/>
<path d="M376.7,313.9 Q440.3,298.3 501.7,313.9" stroke="#1cc6de" stroke-width="6.6" fill="none"/><path d="M376.7,313.9 Q440.3,298.3 501.7,313.9" stroke="#2ad8ee" stroke-width="3.9599999999999995" fill="none"/>
<path d="M381.2,196.7 Q378.5,257.4 397.9,320.6" stroke="#1cc6de" stroke-width="6.6" fill="none"/><path d="M381.2,196.7 Q378.5,257.4 397.9,320.6" stroke="#2ad8ee" stroke-width="3.9599999999999995" fill="none"/>
<path d="M403.5,188.9 Q404.1,250.6 420.3,313.9" stroke="#1cc6de" stroke-width="6.6" fill="none"/><path d="M403.5,188.9 Q404.1,250.6 420.3,313.9" stroke="#2ad8ee" stroke-width="3.9599999999999995" fill="none"/>
<path d="M434.8,192.3 Q416,255.25 429.2,317.2" stroke="#1cc6de" stroke-width="6.6" fill="none"/><path d="M434.8,192.3 Q416,255.25 429.2,317.2" stroke="#2ad8ee" stroke-width="3.9599999999999995" fill="none"/>
<path d="M452.6,195.6 Q447,258.45 469.4,319.5" stroke="#1cc6de" stroke-width="6.6" fill="none"/><path d="M452.6,195.6 Q447,258.45 469.4,319.5" stroke="#2ad8ee" stroke-width="3.9599999999999995" fill="none"/>
<path d="M480.5,202.3 Q493.3,261.45 481.6,322.8" stroke="#1cc6de" stroke-width="6.6" fill="none"/><path d="M480.5,202.3 Q493.3,261.45 481.6,322.8" stroke="#2ad8ee" stroke-width="3.9599999999999995" fill="none"/>
<path d="M370,257 Q432,235.35 493.9,240.3" stroke="#1cc6de" stroke-width="6.6" fill="none"/><path d="M370,257 Q432,235.35 493.9,240.3" stroke="#2ad8ee" stroke-width="3.9599999999999995" fill="none"/>
<path d="M384.5,296 Q444.8,278.2 508.4,296" stroke="#1cc6de" stroke-width="6.6" fill="none"/><path d="M384.5,296 Q444.8,278.2 508.4,296" stroke="#2ad8ee" stroke-width="3.9599999999999995" fill="none"/>
<ellipse cx="403.5" cy="189.9" rx="3.3" ry="1.8" fill="#8ef0fb"/>
<ellipse cx="434.8" cy="193.3" rx="3.3" ry="1.8" fill="#8ef0fb"/>
<ellipse cx="452.6" cy="196.6" rx="3.3" ry="1.8" fill="#8ef0fb"/>
<ellipse cx="480.5" cy="203.3" rx="3.3" ry="1.8" fill="#8ef0fb"/>
<ellipse cx="499.6" cy="225.7" rx="1.8" ry="3.2" fill="#7eeaf8"/>
<ellipse cx="492.9" cy="240.3" rx="1.8" ry="3.2" fill="#7eeaf8"/>
<ellipse cx="500.7" cy="273.7" rx="1.8" ry="3.2" fill="#7eeaf8"/>
<ellipse cx="507.4" cy="296" rx="1.8" ry="3.2" fill="#7eeaf8"/>
<ellipse cx="500.7" cy="313.9" rx="1.8" ry="3.2" fill="#7eeaf8"/>
</g>
<pattern id="rgotex" width="14" height="14" patternUnits="userSpaceOnUse"><rect width="14" height="14" fill="#52b4e0"/><rect x="11.2" y="4.6" width="2.4" height="1" fill="#2a62b8" transform="rotate(43 11.2 4.6)"/><rect x="13.2" y="4.1" width="2.4" height="1" fill="#8ee4f8" transform="rotate(172 13.2 4.1)"/><rect x="3.3" y="7.8" width="2.4" height="1" fill="#1a2838" transform="rotate(119 3.3 7.8)"/><rect x="11.9" y="0.4" width="2.4" height="1" fill="#22344a" transform="rotate(172 11.9 0.4)"/><rect x="11.1" y="2.7" width="2.4" height="1" fill="#74d8f2" transform="rotate(180 11.1 2.7)"/><rect x="2.6" y="4.5" width="2.4" height="1" fill="#2a62b8" transform="rotate(16 2.6 4.5)"/><rect x="3.6" y="6.6" width="2.4" height="1" fill="#1a2838" transform="rotate(41 3.6 6.6)"/><rect x="1.1" y="2.8" width="2.4" height="1" fill="#74d8f2" transform="rotate(101 1.1 2.8)"/><rect x="8.3" y="7.5" width="2.4" height="1" fill="#2a62b8" transform="rotate(18 8.3 7.5)"/><rect x="13.7" y="10.4" width="2.4" height="1" fill="#2a62b8" transform="rotate(134 13.7 10.4)"/><rect x="1.2" y="8.1" width="2.4" height="1" fill="#2a62b8" transform="rotate(149 1.2 8.1)"/><rect x="11.0" y="13.6" width="2.4" height="1" fill="#74d8f2" transform="rotate(49 11.0 13.6)"/><rect x="10.9" y="7.7" width="2.4" height="1" fill="#8ee4f8" transform="rotate(22 10.9 7.7)"/><rect x="0.8" y="11.8" width="2.4" height="1" fill="#2a62b8" transform="rotate(175 0.8 11.8)"/><rect x="8.2" y="8.5" width="2.4" height="1" fill="#8ee4f8" transform="rotate(45 8.2 8.5)"/><rect x="6.6" y="10.3" width="2.4" height="1" fill="#74d8f2" transform="rotate(138 6.6 10.3)"/><rect x="0.2" y="13.8" width="2.4" height="1" fill="#74d8f2" transform="rotate(9 0.2 13.8)"/><rect x="0.6" y="5.0" width="2.4" height="1" fill="#1a2838" transform="rotate(178 0.6 5.0)"/><rect x="3.6" y="7.1" width="2.4" height="1" fill="#74d8f2" transform="rotate(101 3.6 7.1)"/><rect x="0.8" y="6.6" width="2.4" height="1" fill="#1a2838" transform="rotate(125 0.8 6.6)"/><rect x="2.1" y="7.4" width="2.4" height="1" fill="#74d8f2" transform="rotate(3 2.1 7.4)"/><rect x="12.8" y="12.9" width="2.4" height="1" fill="#8ee4f8" transform="rotate(135 12.8 12.9)"/><rect x="0.0" y="11.1" width="2.4" height="1" fill="#2a62b8" transform="rotate(26 0.0 11.1)"/><rect x="10.6" y="0.4" width="2.4" height="1" fill="#1a2838" transform="rotate(1 10.6 0.4)"/><rect x="9.3" y="6.5" width="2.4" height="1" fill="#74d8f2" transform="rotate(156 9.3 6.5)"/><rect x="1.4" y="12.0" width="2.4" height="1" fill="#22344a" transform="rotate(43 1.4 12.0)"/><rect x="10.8" y="1.2" width="2.4" height="1" fill="#1a2838" transform="rotate(30 10.8 1.2)"/><rect x="0.7" y="12.1" width="2.4" height="1" fill="#2a62b8" transform="rotate(121 0.7 12.1)"/><rect x="5.3" y="13.7" width="2.4" height="1" fill="#8ee4f8" transform="rotate(128 5.3 13.7)"/><rect x="5.8" y="7.1" width="2.4" height="1" fill="#1a2838" transform="rotate(108 5.8 7.1)"/><rect x="6.6" y="5.8" width="2.4" height="1" fill="#1a2838" transform="rotate(97 6.6 5.8)"/><rect x="6.4" y="2.6" width="2.4" height="1" fill="#1a2838" transform="rotate(107 6.4 2.6)"/><rect x="0.5" y="10.3" width="2.4" height="1" fill="#74d8f2" transform="rotate(2 0.5 10.3)"/><rect x="12.3" y="7.1" width="2.4" height="1" fill="#2a62b8" transform="rotate(122 12.3 7.1)"/><rect x="6.0" y="1.5" width="2.4" height="1" fill="#1a2838" transform="rotate(120 6.0 1.5)"/><rect x="6.4" y="6.8" width="2.4" height="1" fill="#2a62b8" transform="rotate(125 6.4 6.8)"/><rect x="5.6" y="12.3" width="2.4" height="1" fill="#2a62b8" transform="rotate(117 5.6 12.3)"/><rect x="3.5" y="12.1" width="2.4" height="1" fill="#2a62b8" transform="rotate(157 3.5 12.1)"/><rect x="7.3" y="4.4" width="2.4" height="1" fill="#1a2838" transform="rotate(35 7.3 4.4)"/><rect x="13.6" y="10.6" width="2.4" height="1" fill="#74d8f2" transform="rotate(180 13.6 10.6)"/><rect x="13.8" y="10.7" width="2.4" height="1" fill="#74d8f2" transform="rotate(118 13.8 10.7)"/><rect x="7.1" y="5.6" width="2.4" height="1" fill="#74d8f2" transform="rotate(156 7.1 5.6)"/><rect x="13.6" y="12.3" width="2.4" height="1" fill="#74d8f2" transform="rotate(152 13.6 12.3)"/><rect x="4.3" y="1.1" width="2.4" height="1" fill="#22344a" transform="rotate(122 4.3 1.1)"/><rect x="1.9" y="13.0" width="2.4" height="1" fill="#22344a" transform="rotate(125 1.9 13.0)"/><rect x="12.8" y="8.2" width="2.4" height="1" fill="#74d8f2" transform="rotate(101 12.8 8.2)"/><rect x="8.1" y="7.4" width="2.4" height="1" fill="#8ee4f8" transform="rotate(154 8.1 7.4)"/><rect x="1.7" y="9.7" width="2.4" height="1" fill="#2a62b8" transform="rotate(23 1.7 9.7)"/><rect x="2.3" y="13.6" width="2.4" height="1" fill="#8ee4f8" transform="rotate(11 2.3 13.6)"/><rect x="10.3" y="8.2" width="2.4" height="1" fill="#74d8f2" transform="rotate(68 10.3 8.2)"/><rect x="4.2" y="5.0" width="2.4" height="1" fill="#74d8f2" transform="rotate(116 4.2 5.0)"/><rect x="11.9" y="0.7" width="2.4" height="1" fill="#22344a" transform="rotate(135 11.9 0.7)"/><rect x="6.9" y="11.0" width="2.4" height="1" fill="#2a62b8" transform="rotate(96 6.9 11.0)"/><rect x="1.1" y="0.1" width="2.4" height="1" fill="#2a62b8" transform="rotate(6 1.1 0.1)"/><rect x="1.8" y="12.9" width="2.4" height="1" fill="#1a2838" transform="rotate(115 1.8 12.9)"/><rect x="11.4" y="13.1" width="2.4" height="1" fill="#2a62b8" transform="rotate(114 11.4 13.1)"/><rect x="2.4" y="12.5" width="2.4" height="1" fill="#1a2838" transform="rotate(16 2.4 12.5)"/><rect x="7.7" y="13.9" width="2.4" height="1" fill="#74d8f2" transform="rotate(70 7.7 13.9)"/><rect x="1.0" y="10.3" width="2.4" height="1" fill="#8ee4f8" transform="rotate(37 1.0 10.3)"/><rect x="10.8" y="4.5" width="2.4" height="1" fill="#22344a" transform="rotate(84 10.8 4.5)"/></pattern>
<g filter="url(#blur05)">
<polygon points="667.7,215.2 670.6,214.9 673.5,214.7 676.4,214.4 679.3,214.2 682.1,214.0 685.0,213.8 687.9,213.6 690.8,213.4 693.6,213.2 696.5,213.0 699.3,212.8 702.2,212.7 705.1,212.5 707.9,212.4 710.8,212.3 713.6,212.2 716.4,212.1 719.3,212.0 722.1,211.9 724.9,211.8 727.8,211.7 730.6,211.7 733.4,211.6 736.2,211.6 739.0,211.5 741.8,211.5 744.7,211.5 747.5,211.5 750.3,211.5 753.1,211.6 755.9,211.6 758.6,211.6 761.4,211.7 764.2,211.7 767.0,211.8 769.8,211.9 772.6,212.0 775.3,212.1 778.1,212.2 780.9,212.3 783.6,212.4 786.4,212.5 789.1,212.7 791.9,212.3 794.7,212.0 797.5,211.6 800.3,211.2 803.1,210.7 805.9,210.2 808.7,209.5 808.7,209.5 806.0,208.3 803.3,207.4 800.6,206.6 797.9,205.8 795.1,205.1 792.4,204.4 789.6,203.7 786.8,203.6 784.1,203.4 781.3,203.3 778.5,203.2 775.7,203.1 772.9,203.0 770.0,202.9 767.2,202.8 764.4,202.7 761.6,202.7 758.8,202.6 756.0,202.6 753.1,202.6 750.3,202.5 747.5,202.5 744.6,202.5 741.8,202.5 739.0,202.6 736.1,202.6 733.3,202.6 730.4,202.7 727.6,202.7 724.7,202.8 721.8,202.9 719.0,203.0 716.1,203.1 713.2,203.2 710.4,203.3 707.5,203.4 704.6,203.5 701.7,203.7 698.8,203.8 696.0,204.0 693.1,204.2 690.2,204.4 687.3,204.6 684.4,204.8 681.5,205.0 678.6,205.2 675.6,205.5 672.7,205.7 669.8,206.0 666.9,206.2" fill="none" stroke="#1c2430" stroke-width="1.3" stroke-dasharray="1.3 1.1" opacity="0.55"/><polygon points="667.7,214.6 670.6,214.3 673.4,214.1 676.3,213.8 679.2,213.6 682.1,213.4 685.0,213.2 687.8,213.0 690.7,212.8 693.6,212.6 696.5,212.4 699.3,212.2 702.2,212.1 705.0,211.9 707.9,211.8 710.7,211.7 713.6,211.6 716.4,211.5 719.3,211.4 722.1,211.3 724.9,211.2 727.7,211.1 730.6,211.1 733.4,211.0 736.2,211.0 739.0,210.9 741.8,210.9 744.7,210.9 747.5,210.9 750.3,210.9 753.1,211.0 755.9,211.0 758.7,211.0 761.4,211.1 764.2,211.1 767.0,211.2 769.8,211.3 772.6,211.4 775.3,211.5 778.1,211.6 780.9,211.7 783.7,211.8 786.4,211.9 789.2,212.1 792.0,211.8 794.7,211.5 797.5,211.2 800.3,210.9 803.1,210.5 805.9,210.1 808.7,209.5 808.7,209.5 806.0,208.5 803.3,207.7 800.6,206.9 797.8,206.2 795.1,205.5 792.4,204.9 789.6,204.3 786.8,204.2 784.0,204.0 781.2,203.9 778.4,203.8 775.6,203.7 772.8,203.6 770.0,203.5 767.2,203.4 764.4,203.3 761.6,203.3 758.8,203.2 756.0,203.2 753.1,203.2 750.3,203.1 747.5,203.1 744.6,203.1 741.8,203.1 739.0,203.2 736.1,203.2 733.3,203.2 730.4,203.3 727.6,203.3 724.7,203.4 721.9,203.5 719.0,203.6 716.1,203.7 713.3,203.8 710.4,203.9 707.5,204.0 704.6,204.1 701.8,204.3 698.9,204.4 696.0,204.6 693.1,204.8 690.2,205.0 687.3,205.2 684.4,205.4 681.5,205.6 678.6,205.8 675.7,206.1 672.8,206.3 669.9,206.6 666.9,206.8" fill="#2f78c8"/><polygon points="667.6,213.5 670.5,213.2 673.3,213.0 676.2,212.7 679.1,212.5 682.0,212.3 684.9,212.1 687.8,211.9 690.6,211.7 693.5,211.5 696.4,211.3 699.3,211.1 702.1,211.0 705.0,210.8 707.8,210.7 710.7,210.6 713.5,210.5 716.4,210.4 719.2,210.3 722.1,210.2 724.9,210.1 727.7,210.0 730.6,210.0 733.4,209.9 736.2,209.9 739.0,209.9 741.8,209.8 744.7,209.8 747.5,209.8 750.3,209.8 753.1,209.9 755.9,209.9 758.7,209.9 761.5,210.0 764.3,210.0 767.0,210.1 769.8,210.2 772.6,210.3 775.4,210.4 778.2,210.5 780.9,210.6 783.7,210.7 786.5,210.9 789.2,211.0 792.0,210.8 794.8,210.7 797.6,210.5 800.3,210.3 803.1,210.1 805.9,209.9 808.7,209.5 808.7,209.5 806.0,208.7 803.3,208.1 800.5,207.5 797.8,206.9 795.1,206.4 792.3,205.9 789.5,205.4 786.8,205.2 784.0,205.1 781.2,205.0 778.4,204.9 775.6,204.8 772.8,204.7 770.0,204.6 767.2,204.5 764.4,204.4 761.6,204.4 758.8,204.3 755.9,204.3 753.1,204.2 750.3,204.2 747.5,204.2 744.6,204.2 741.8,204.2 739.0,204.2 736.1,204.3 733.3,204.3 730.4,204.4 727.6,204.4 724.7,204.5 721.9,204.6 719.0,204.7 716.2,204.7 713.3,204.9 710.4,205.0 707.6,205.1 704.7,205.2 701.8,205.4 698.9,205.5 696.1,205.7 693.2,205.9 690.3,206.1 687.4,206.3 684.5,206.5 681.6,206.7 678.7,206.9 675.8,207.1 672.9,207.4 670.0,207.6 667.0,207.9" fill="url(#rgotex)" transform="translate(0.9 0.3)"/><polygon points="789.2,212.1 792.0,211.8 794.7,211.5 797.5,211.2 800.3,210.9 803.1,210.5 805.9,210.1 808.7,209.5 808.7,209.5 806.0,208.5 803.3,207.7 800.6,206.9 797.8,206.2 795.1,205.5 792.4,204.9 789.6,204.3" fill="#1f56b8" opacity="0.8"/>
<polygon points="670.8,255.5 673.5,255.5 676.3,255.4 679.0,255.4 681.8,255.4 684.5,255.4 687.3,255.4 690.0,255.5 692.8,255.5 695.6,255.5 698.3,255.6 701.1,255.6 703.8,255.7 706.6,255.8 709.3,255.9 712.1,256.0 714.8,256.1 717.6,256.2 720.3,256.3 723.0,256.5 725.8,256.6 728.5,256.8 731.3,256.9 734.0,257.1 736.8,257.3 739.5,257.5 742.3,257.7 745.0,257.9 747.8,258.1 750.5,258.4 753.2,258.6 756.0,258.9 758.7,259.1 761.5,259.4 764.2,259.7 766.9,260.0 769.7,260.3 772.4,260.6 775.2,260.9 777.9,261.2 780.6,261.5 783.4,261.9 786.1,262.2 788.8,262.6 791.7,262.5 794.5,262.3 797.3,262.2 800.1,262.0 803.0,261.8 805.8,261.5 808.7,261.0 808.7,261.0 806.1,259.6 803.5,258.5 800.8,257.5 798.1,256.5 795.4,255.5 792.8,254.6 790.1,253.7 787.3,253.3 784.5,253.0 781.8,252.6 779.0,252.3 776.2,251.9 773.4,251.6 770.7,251.3 767.9,251.0 765.1,250.7 762.4,250.4 759.6,250.2 756.8,249.9 754.0,249.6 751.3,249.4 748.5,249.2 745.7,248.9 743.0,248.7 740.2,248.5 737.4,248.3 734.6,248.1 731.8,248.0 729.1,247.8 726.3,247.6 723.5,247.5 720.7,247.3 718.0,247.2 715.2,247.1 712.4,247.0 709.6,246.9 706.8,246.8 704.1,246.7 701.3,246.6 698.5,246.6 695.7,246.5 692.9,246.5 690.1,246.5 687.4,246.4 684.6,246.4 681.8,246.4 679.0,246.4 676.2,246.4 673.4,246.5 670.6,246.5" fill="none" stroke="#1c2430" stroke-width="1.3" stroke-dasharray="1.3 1.1" opacity="0.55"/><polygon points="670.7,254.9 673.5,254.9 676.3,254.8 679.0,254.8 681.8,254.8 684.5,254.8 687.3,254.8 690.1,254.9 692.8,254.9 695.6,254.9 698.3,255.0 701.1,255.0 703.8,255.1 706.6,255.2 709.3,255.3 712.1,255.4 714.8,255.5 717.6,255.6 720.3,255.7 723.1,255.9 725.8,256.0 728.6,256.2 731.3,256.3 734.1,256.5 736.8,256.7 739.6,256.9 742.3,257.1 745.1,257.3 747.8,257.5 750.6,257.8 753.3,258.0 756.0,258.3 758.8,258.5 761.5,258.8 764.3,259.1 767.0,259.4 769.8,259.7 772.5,260.0 775.2,260.3 778.0,260.6 780.7,260.9 783.5,261.3 786.2,261.7 788.9,262.0 791.7,261.9 794.5,261.9 797.3,261.8 800.2,261.7 803.0,261.6 805.8,261.4 808.7,261.0 808.7,261.0 806.1,259.8 803.4,258.7 800.7,257.8 798.1,256.9 795.4,256.0 792.7,255.1 790.0,254.3 787.2,253.9 784.4,253.6 781.7,253.2 778.9,252.9 776.1,252.5 773.4,252.2 770.6,251.9 767.8,251.6 765.1,251.3 762.3,251.0 759.5,250.8 756.8,250.5 754.0,250.2 751.2,250.0 748.5,249.8 745.7,249.5 742.9,249.3 740.1,249.1 737.4,248.9 734.6,248.7 731.8,248.6 729.0,248.4 726.3,248.2 723.5,248.1 720.7,247.9 717.9,247.8 715.2,247.7 712.4,247.6 709.6,247.5 706.8,247.4 704.0,247.3 701.3,247.2 698.5,247.2 695.7,247.1 692.9,247.1 690.1,247.1 687.3,247.0 684.6,247.0 681.8,247.0 679.0,247.0 676.2,247.0 673.4,247.1 670.7,247.1" fill="#2f78c8"/><polygon points="670.7,253.8 673.5,253.8 676.3,253.7 679.0,253.7 681.8,253.7 684.5,253.7 687.3,253.7 690.1,253.8 692.8,253.8 695.6,253.8 698.3,253.9 701.1,253.9 703.9,254.0 706.6,254.1 709.4,254.2 712.1,254.3 714.9,254.4 717.6,254.5 720.4,254.6 723.1,254.8 725.9,254.9 728.6,255.1 731.4,255.2 734.1,255.4 736.9,255.6 739.6,255.8 742.4,256.0 745.1,256.2 747.9,256.4 750.6,256.7 753.4,256.9 756.1,257.2 758.9,257.4 761.6,257.7 764.4,258.0 767.1,258.3 769.9,258.6 772.6,258.9 775.4,259.2 778.1,259.5 780.8,259.9 783.6,260.2 786.3,260.6 789.1,260.9 791.9,261.0 794.7,261.0 797.4,261.1 800.2,261.1 803.0,261.2 805.9,261.1 808.7,261.0 808.7,261.0 806.0,260.0 803.4,259.1 800.7,258.3 798.0,257.5 795.3,256.8 792.5,256.1 789.8,255.4 787.1,255.0 784.3,254.6 781.5,254.3 778.8,254.0 776.0,253.6 773.3,253.3 770.5,253.0 767.7,252.7 765.0,252.4 762.2,252.1 759.4,251.8 756.7,251.6 753.9,251.3 751.1,251.1 748.4,250.8 745.6,250.6 742.8,250.4 740.1,250.2 737.3,250.0 734.5,249.8 731.7,249.6 729.0,249.5 726.2,249.3 723.4,249.2 720.7,249.0 717.9,248.9 715.1,248.8 712.3,248.7 709.6,248.6 706.8,248.5 704.0,248.4 701.2,248.3 698.5,248.3 695.7,248.2 692.9,248.2 690.1,248.1 687.3,248.1 684.6,248.1 681.8,248.1 679.0,248.1 676.2,248.1 673.4,248.2 670.7,248.2" fill="url(#rgotex)" transform="translate(0.9 0.3)"/><polygon points="788.9,262.0 791.7,261.9 794.5,261.9 797.3,261.8 800.2,261.7 803.0,261.6 805.8,261.4 808.7,261.0 808.7,261.0 806.1,259.8 803.4,258.7 800.7,257.8 798.1,256.9 795.4,256.0 792.7,255.1 790.0,254.3" fill="#1f56b8" opacity="0.8"/>
<polygon points="671.4,308.2 674.2,307.8 676.9,307.3 679.7,306.9 682.4,306.5 685.1,306.1 687.8,305.7 690.5,305.4 693.2,305.0 695.9,304.7 698.6,304.4 701.3,304.1 704.0,303.8 706.7,303.5 709.3,303.3 712.0,303.0 714.6,302.8 717.3,302.6 719.9,302.4 722.6,302.2 725.2,302.1 727.8,301.9 730.4,301.8 733.0,301.7 735.6,301.6 738.2,301.5 740.8,301.5 743.4,301.4 746.0,301.4 748.6,301.4 751.1,301.4 753.7,301.4 756.3,301.5 758.8,301.5 761.3,301.6 763.9,301.7 766.4,301.8 768.9,301.9 771.5,302.0 774.0,302.2 776.5,302.3 779.0,302.5 781.5,302.7 784.0,302.9 786.5,302.6 789.0,302.3 791.6,302.0 794.1,301.7 796.6,301.4 799.2,301.0 801.8,300.4 801.8,300.4 799.4,299.1 797.0,298.1 794.6,297.2 792.2,296.3 789.7,295.5 787.2,294.7 784.7,294.0 782.2,293.7 779.6,293.5 777.1,293.4 774.5,293.2 772.0,293.0 769.4,292.9 766.8,292.8 764.2,292.7 761.6,292.6 759.0,292.5 756.4,292.5 753.8,292.4 751.2,292.4 748.6,292.4 745.9,292.4 743.3,292.4 740.7,292.5 738.0,292.6 735.4,292.6 732.7,292.7 730.0,292.8 727.4,293.0 724.7,293.1 722.0,293.3 719.3,293.4 716.6,293.6 713.9,293.8 711.2,294.1 708.5,294.3 705.8,294.6 703.1,294.8 700.3,295.1 697.6,295.4 694.9,295.7 692.1,296.1 689.4,296.4 686.6,296.8 683.8,297.2 681.1,297.6 678.3,298.0 675.5,298.4 672.7,298.9 670.0,299.4" fill="none" stroke="#1c2430" stroke-width="1.3" stroke-dasharray="1.3 1.1" opacity="0.55"/><polygon points="671.3,307.6 674.1,307.2 676.8,306.7 679.6,306.3 682.3,305.9 685.0,305.5 687.8,305.1 690.5,304.8 693.2,304.4 695.9,304.1 698.6,303.8 701.3,303.5 703.9,303.2 706.6,302.9 709.3,302.7 711.9,302.4 714.6,302.2 717.2,302.0 719.9,301.8 722.5,301.6 725.2,301.5 727.8,301.3 730.4,301.2 733.0,301.1 735.6,301.0 738.2,300.9 740.8,300.9 743.4,300.8 746.0,300.8 748.6,300.8 751.1,300.8 753.7,300.8 756.3,300.9 758.8,300.9 761.4,301.0 763.9,301.1 766.4,301.2 769.0,301.3 771.5,301.4 774.0,301.6 776.5,301.7 779.0,301.9 781.5,302.1 784.0,302.3 786.5,302.1 789.1,301.9 791.6,301.7 794.1,301.4 796.7,301.2 799.2,300.9 801.8,300.4 801.8,300.4 799.4,299.3 797.0,298.3 794.6,297.5 792.1,296.7 789.7,296.0 787.2,295.2 784.7,294.6 782.2,294.3 779.6,294.1 777.0,294.0 774.5,293.8 771.9,293.6 769.3,293.5 766.8,293.4 764.2,293.3 761.6,293.2 759.0,293.1 756.4,293.1 753.8,293.0 751.2,293.0 748.6,293.0 745.9,293.0 743.3,293.0 740.7,293.1 738.0,293.2 735.4,293.2 732.7,293.3 730.1,293.4 727.4,293.6 724.7,293.7 722.0,293.9 719.4,294.0 716.7,294.2 714.0,294.4 711.3,294.7 708.6,294.9 705.9,295.1 703.1,295.4 700.4,295.7 697.7,296.0 694.9,296.3 692.2,296.7 689.4,297.0 686.7,297.4 683.9,297.8 681.2,298.2 678.4,298.6 675.6,299.0 672.8,299.5 670.1,300.0" fill="#2f78c8"/><polygon points="671.2,306.6 673.9,306.1 676.7,305.7 679.4,305.2 682.2,304.8 684.9,304.4 687.6,304.0 690.3,303.7 693.0,303.3 695.7,303.0 698.4,302.7 701.1,302.4 703.8,302.1 706.5,301.8 709.2,301.6 711.8,301.3 714.5,301.1 717.2,300.9 719.8,300.7 722.5,300.6 725.1,300.4 727.7,300.3 730.4,300.1 733.0,300.0 735.6,299.9 738.2,299.9 740.8,299.8 743.4,299.8 746.0,299.7 748.6,299.7 751.1,299.7 753.7,299.7 756.3,299.8 758.8,299.8 761.4,299.9 763.9,300.0 766.5,300.1 769.0,300.2 771.5,300.3 774.1,300.5 776.6,300.6 779.1,300.8 781.6,301.0 784.1,301.2 786.6,301.1 789.1,301.1 791.7,301.0 794.2,300.9 796.7,300.8 799.2,300.7 801.8,300.4 801.8,300.4 799.4,299.5 797.0,298.7 794.5,298.0 792.1,297.4 789.6,296.8 787.1,296.2 784.6,295.6 782.1,295.4 779.5,295.2 777.0,295.0 774.4,294.9 771.9,294.7 769.3,294.6 766.7,294.5 764.1,294.4 761.6,294.3 759.0,294.2 756.4,294.2 753.8,294.1 751.2,294.1 748.6,294.1 745.9,294.1 743.3,294.1 740.7,294.2 738.1,294.2 735.4,294.3 732.8,294.4 730.1,294.5 727.4,294.6 724.8,294.8 722.1,294.9 719.4,295.1 716.8,295.3 714.1,295.5 711.4,295.7 708.7,296.0 706.0,296.2 703.2,296.5 700.5,296.8 697.8,297.1 695.1,297.4 692.3,297.8 689.6,298.1 686.8,298.5 684.1,298.9 681.3,299.3 678.6,299.7 675.8,300.1 673.0,300.6 670.2,301.0" fill="url(#rgotex)" transform="translate(0.9 0.3)"/><polygon points="784.0,302.3 786.5,302.1 789.1,301.9 791.6,301.7 794.1,301.4 796.7,301.2 799.2,300.9 801.8,300.4 801.8,300.4 799.4,299.3 797.0,298.3 794.6,297.5 792.1,296.7 789.7,296.0 787.2,295.2 784.7,294.6" fill="#1f56b8" opacity="0.8"/>
<polygon points="699.5,190.0 697.7,192.1 696.2,194.3 694.8,196.5 693.5,198.8 692.2,201.0 690.9,203.3 689.7,205.6 689.2,208.1 688.6,210.5 688.1,213.0 687.6,215.5 687.1,218.0 686.6,220.4 686.1,222.9 685.7,225.4 685.2,227.9 684.8,230.4 684.3,232.9 683.9,235.4 683.5,237.9 683.1,240.4 682.7,242.9 682.4,245.5 682.0,248.0 681.6,250.5 681.3,253.1 681.0,255.6 680.6,258.1 680.3,260.7 680.0,263.2 679.7,265.8 679.5,268.4 679.2,270.9 678.9,273.5 678.7,276.1 678.5,278.6 678.2,281.2 678.0,283.8 677.8,286.4 677.6,289.0 677.5,291.6 677.3,294.2 677.1,296.8 677.0,299.4 676.9,302.0 676.7,304.6 676.6,307.2 676.5,309.9 676.4,312.5 676.4,315.1 688.0,315.5 688.1,312.9 688.2,310.3 688.3,307.7 688.4,305.1 688.5,302.6 688.7,300.0 688.8,297.5 689.0,294.9 689.1,292.4 689.3,289.8 689.5,287.3 689.7,284.7 689.9,282.2 690.1,279.7 690.3,277.1 690.6,274.6 690.8,272.1 691.1,269.6 691.4,267.1 691.6,264.6 691.9,262.1 692.2,259.6 692.6,257.1 692.9,254.6 693.2,252.1 693.6,249.6 693.9,247.2 694.3,244.7 694.7,242.2 695.1,239.8 695.5,237.3 695.9,234.9 696.3,232.4 696.7,230.0 697.2,227.5 697.6,225.1 698.1,222.7 698.6,220.2 699.1,217.8 699.6,215.4 700.1,213.0 700.6,210.6 701.1,208.2 701.0,205.6 700.9,203.1 700.7,200.5 700.6,197.9 700.4,195.3 700.1,192.7 699.5,190.0" fill="none" stroke="#1c2430" stroke-width="1.3" stroke-dasharray="1.3 1.1" opacity="0.55"/><polygon points="699.5,190.0 697.8,192.1 696.4,194.3 695.1,196.6 693.8,198.9 692.6,201.1 691.5,203.4 690.3,205.8 689.8,208.2 689.2,210.7 688.7,213.1 688.2,215.6 687.7,218.1 687.2,220.6 686.7,223.0 686.3,225.5 685.8,228.0 685.4,230.5 684.9,233.0 684.5,235.5 684.1,238.0 683.7,240.5 683.3,243.0 682.9,245.6 682.6,248.1 682.2,250.6 681.9,253.1 681.5,255.7 681.2,258.2 680.9,260.8 680.6,263.3 680.3,265.9 680.1,268.4 679.8,271.0 679.5,273.5 679.3,276.1 679.1,278.7 678.8,281.3 678.6,283.8 678.4,286.4 678.2,289.0 678.1,291.6 677.9,294.2 677.7,296.8 677.6,299.4 677.5,302.0 677.3,304.7 677.2,307.3 677.1,309.9 677.0,312.5 677.0,315.1 687.4,315.5 687.5,312.9 687.6,310.3 687.7,307.7 687.8,305.1 687.9,302.5 688.1,300.0 688.2,297.4 688.4,294.9 688.5,292.3 688.7,289.8 688.9,287.2 689.1,284.7 689.3,282.1 689.5,279.6 689.7,277.1 690.0,274.6 690.2,272.0 690.5,269.5 690.8,267.0 691.0,264.5 691.3,262.0 691.6,259.5 692.0,257.0 692.3,254.5 692.6,252.0 693.0,249.6 693.3,247.1 693.7,244.6 694.1,242.1 694.5,239.7 694.9,237.2 695.3,234.8 695.7,232.3 696.1,229.9 696.6,227.4 697.1,225.0 697.5,222.6 698.0,220.1 698.5,217.7 699.0,215.3 699.5,212.9 700.0,210.5 700.6,208.0 700.5,205.5 700.4,203.0 700.4,200.4 700.3,197.8 700.2,195.3 700.0,192.7 699.5,190.0" fill="#2f78c8"/><polygon points="699.5,190.0 698.1,192.2 696.9,194.5 695.8,196.8 694.8,199.1 693.7,201.4 692.7,203.7 691.7,206.1 691.2,208.5 690.7,211.0 690.1,213.4 689.6,215.9 689.1,218.4 688.7,220.8 688.2,223.3 687.7,225.8 687.3,228.3 686.8,230.8 686.4,233.3 686.0,235.7 685.6,238.2 685.2,240.8 684.8,243.3 684.4,245.8 684.0,248.3 683.7,250.8 683.3,253.3 683.0,255.9 682.7,258.4 682.4,260.9 682.1,263.5 681.8,266.0 681.5,268.6 681.2,271.1 681.0,273.7 680.7,276.2 680.5,278.8 680.3,281.4 680.1,284.0 679.9,286.5 679.7,289.1 679.5,291.7 679.4,294.3 679.2,296.9 679.1,299.5 678.9,302.1 678.8,304.7 678.7,307.3 678.6,309.9 678.5,312.6 678.4,315.2 686.0,315.4 686.1,312.8 686.1,310.2 686.2,307.6 686.4,305.1 686.5,302.5 686.6,299.9 686.7,297.3 686.9,294.8 687.1,292.2 687.2,289.7 687.4,287.1 687.6,284.6 687.8,282.0 688.0,279.5 688.3,276.9 688.5,274.4 688.8,271.9 689.0,269.4 689.3,266.9 689.6,264.3 689.9,261.8 690.2,259.3 690.5,256.8 690.8,254.3 691.2,251.8 691.5,249.4 691.9,246.9 692.2,244.4 692.6,241.9 693.0,239.4 693.4,237.0 693.8,234.5 694.3,232.1 694.7,229.6 695.1,227.2 695.6,224.7 696.1,222.3 696.6,219.8 697.0,217.4 697.5,215.0 698.1,212.6 698.6,210.1 699.1,207.7 699.2,205.2 699.3,202.7 699.5,200.2 699.6,197.7 699.6,195.1 699.7,192.6 699.5,190.0" fill="url(#rgotex)" transform="translate(0.9 0.3)"/><polygon points="699.5,190.0 697.8,192.1 696.4,194.3 695.1,196.6 693.8,198.9 692.6,201.1 691.5,203.4 690.3,205.8 689.8,208.2 689.2,210.7 688.7,213.1 699.0,215.3 699.5,212.9 700.0,210.5 700.6,208.0 700.5,205.5 700.4,203.0 700.4,200.4 700.3,197.8 700.2,195.3 700.0,192.7 699.5,190.0" fill="#1f56b8" opacity="0.85"/>
<polygon points="731.7,188.8 729.9,190.9 728.4,193.2 727.0,195.5 725.6,197.8 724.4,200.1 723.1,202.4 721.9,204.8 721.3,207.3 720.8,209.8 720.3,212.3 719.8,214.8 719.3,217.4 718.8,219.9 718.4,222.4 717.9,225.0 717.5,227.5 717.0,230.1 716.6,232.6 716.2,235.2 715.8,237.7 715.4,240.3 715.1,242.9 714.7,245.4 714.4,248.0 714.0,250.6 713.7,253.2 713.4,255.8 713.1,258.4 712.8,261.0 712.5,263.6 712.3,266.2 712.0,268.8 711.8,271.4 711.6,274.0 711.4,276.6 711.2,279.3 711.0,281.9 710.8,284.5 710.7,287.2 710.5,289.8 710.4,292.5 710.3,295.1 710.2,297.8 710.1,300.4 710.0,303.1 709.9,305.8 709.9,308.4 709.8,311.1 709.8,313.8 709.8,316.5 721.4,316.5 721.5,313.9 721.5,311.3 721.6,308.7 721.6,306.0 721.7,303.4 721.8,300.8 721.9,298.2 722.0,295.6 722.1,293.0 722.2,290.4 722.4,287.8 722.5,285.2 722.7,282.7 722.9,280.1 723.0,277.5 723.3,275.0 723.5,272.4 723.7,269.8 723.9,267.3 724.2,264.7 724.5,262.2 724.7,259.7 725.0,257.1 725.3,254.6 725.6,252.1 726.0,249.5 726.3,247.0 726.6,244.5 727.0,242.0 727.4,239.5 727.8,237.0 728.2,234.5 728.6,232.0 729.0,229.5 729.4,227.0 729.9,224.5 730.3,222.1 730.8,219.6 731.3,217.1 731.8,214.7 732.3,212.2 732.8,209.7 733.3,207.3 733.2,204.7 733.1,202.1 732.9,199.5 732.8,196.9 732.6,194.2 732.3,191.6 731.7,188.8" fill="none" stroke="#1c2430" stroke-width="1.3" stroke-dasharray="1.3 1.1" opacity="0.55"/><polygon points="731.7,188.8 730.0,191.0 728.6,193.2 727.3,195.5 726.0,197.9 724.8,200.2 723.6,202.5 722.5,204.9 721.9,207.4 721.4,209.9 720.9,212.4 720.4,215.0 719.9,217.5 719.4,220.0 718.9,222.5 718.5,225.1 718.0,227.6 717.6,230.2 717.2,232.7 716.8,235.3 716.4,237.8 716.0,240.4 715.6,242.9 715.3,245.5 714.9,248.1 714.6,250.7 714.3,253.3 714.0,255.8 713.7,258.4 713.4,261.0 713.1,263.6 712.9,266.2 712.6,268.8 712.4,271.4 712.2,274.1 712.0,276.7 711.8,279.3 711.6,281.9 711.4,284.6 711.3,287.2 711.1,289.8 711.0,292.5 710.9,295.1 710.8,297.8 710.7,300.4 710.6,303.1 710.5,305.8 710.5,308.4 710.4,311.1 710.4,313.8 710.4,316.5 720.8,316.5 720.9,313.9 720.9,311.3 721.0,308.6 721.0,306.0 721.1,303.4 721.2,300.8 721.3,298.2 721.4,295.6 721.5,293.0 721.6,290.4 721.8,287.8 721.9,285.2 722.1,282.6 722.3,280.1 722.5,277.5 722.7,274.9 722.9,272.3 723.1,269.8 723.3,267.2 723.6,264.7 723.9,262.1 724.1,259.6 724.4,257.0 724.7,254.5 725.0,252.0 725.4,249.5 725.7,246.9 726.0,244.4 726.4,241.9 726.8,239.4 727.2,236.9 727.6,234.4 728.0,231.9 728.4,229.4 728.8,226.9 729.3,224.4 729.7,221.9 730.2,219.5 730.7,217.0 731.2,214.5 731.7,212.1 732.2,209.6 732.7,207.2 732.7,204.6 732.6,202.0 732.6,199.4 732.5,196.8 732.3,194.2 732.2,191.5 731.7,188.8" fill="#2f78c8"/><polygon points="731.7,188.8 730.3,191.1 729.1,193.4 728.0,195.7 726.9,198.1 725.9,200.4 724.9,202.8 723.9,205.2 723.4,207.7 722.8,210.2 722.3,212.7 721.8,215.3 721.3,217.8 720.9,220.3 720.4,222.8 719.9,225.3 719.5,227.9 719.1,230.4 718.6,232.9 718.2,235.5 717.9,238.0 717.5,240.6 717.1,243.2 716.7,245.7 716.4,248.3 716.1,250.9 715.8,253.4 715.5,256.0 715.2,258.6 714.9,261.2 714.6,263.8 714.4,266.4 714.1,269.0 713.9,271.6 713.7,274.2 713.4,276.8 713.3,279.4 713.1,282.0 712.9,284.6 712.7,287.3 712.6,289.9 712.5,292.6 712.3,295.2 712.2,297.8 712.1,300.5 712.1,303.1 712.0,305.8 711.9,308.5 711.9,311.1 711.8,313.8 711.8,316.5 719.4,316.5 719.4,313.9 719.4,311.2 719.5,308.6 719.5,306.0 719.6,303.4 719.7,300.7 719.8,298.1 719.9,295.5 720.0,292.9 720.1,290.3 720.3,287.7 720.4,285.1 720.6,282.5 720.8,279.9 721.0,277.4 721.2,274.8 721.4,272.2 721.6,269.7 721.9,267.1 722.1,264.5 722.4,262.0 722.7,259.4 723.0,256.9 723.3,254.3 723.6,251.8 723.9,249.3 724.2,246.7 724.6,244.2 725.0,241.7 725.3,239.2 725.7,236.7 726.1,234.2 726.5,231.6 726.9,229.2 727.4,226.7 727.8,224.2 728.3,221.7 728.8,219.2 729.2,216.7 729.7,214.2 730.2,211.8 730.8,209.3 731.3,206.8 731.4,204.3 731.5,201.7 731.6,199.2 731.7,196.6 731.8,194.0 731.9,191.4 731.7,188.8" fill="url(#rgotex)" transform="translate(0.9 0.3)"/><polygon points="731.7,188.8 730.0,191.0 728.6,193.2 727.3,195.5 726.0,197.9 724.8,200.2 723.6,202.5 722.5,204.9 721.9,207.4 721.4,209.9 720.9,212.4 731.2,214.5 731.7,212.1 732.2,209.6 732.7,207.2 732.7,204.6 732.6,202.0 732.6,199.4 732.5,196.8 732.3,194.2 732.2,191.5 731.7,188.8" fill="#1f56b8" opacity="0.85"/>
<polygon points="761.6,191.0 759.9,193.1 758.4,195.3 757.1,197.5 755.9,199.7 754.7,202.0 753.5,204.3 752.4,206.6 751.9,209.1 751.5,211.5 751.1,214.0 750.7,216.4 750.3,218.9 749.9,221.4 749.5,223.9 749.2,226.4 748.8,228.9 748.5,231.4 748.2,233.9 747.9,236.4 747.6,238.9 747.3,241.5 747.1,244.0 746.8,246.6 746.6,249.1 746.4,251.7 746.2,254.2 746.0,256.8 745.8,259.4 745.6,262.0 745.5,264.6 745.4,267.2 745.2,269.8 745.1,272.4 745.0,275.0 744.9,277.6 744.9,280.3 744.8,282.9 744.8,285.6 744.8,288.2 744.7,290.9 744.7,293.6 744.8,296.2 744.8,298.9 744.8,301.6 744.9,304.3 744.9,307.0 745.0,309.7 745.1,312.4 745.2,315.1 745.4,317.9 757.0,317.3 756.9,314.7 756.8,312.0 756.7,309.3 756.6,306.7 756.6,304.0 756.5,301.4 756.5,298.8 756.5,296.1 756.4,293.5 756.4,290.9 756.5,288.3 756.5,285.7 756.5,283.1 756.6,280.6 756.6,278.0 756.7,275.4 756.8,272.9 756.9,270.3 757.0,267.8 757.2,265.2 757.3,262.7 757.5,260.2 757.6,257.6 757.8,255.1 758.0,252.6 758.2,250.1 758.5,247.6 758.7,245.2 759.0,242.7 759.2,240.2 759.5,237.8 759.8,235.3 760.1,232.9 760.4,230.4 760.7,228.0 761.1,225.6 761.4,223.1 761.8,220.7 762.2,218.3 762.6,215.9 763.0,213.5 763.4,211.1 763.9,208.8 763.7,206.3 763.4,203.8 763.2,201.2 762.9,198.7 762.6,196.2 762.3,193.6 761.6,191.0" fill="none" stroke="#1c2430" stroke-width="1.3" stroke-dasharray="1.3 1.1" opacity="0.55"/><polygon points="761.6,191.0 760.0,193.1 758.7,195.3 757.4,197.6 756.2,199.8 755.1,202.1 754.0,204.4 753.0,206.7 752.5,209.2 752.1,211.6 751.7,214.1 751.2,216.5 750.9,219.0 750.5,221.5 750.1,224.0 749.8,226.5 749.4,228.9 749.1,231.5 748.8,234.0 748.5,236.5 748.2,239.0 747.9,241.5 747.7,244.1 747.4,246.6 747.2,249.2 747.0,251.7 746.8,254.3 746.6,256.9 746.4,259.4 746.2,262.0 746.1,264.6 746.0,267.2 745.8,269.8 745.7,272.4 745.6,275.0 745.5,277.7 745.5,280.3 745.4,282.9 745.4,285.6 745.4,288.2 745.3,290.9 745.3,293.6 745.4,296.2 745.4,298.9 745.4,301.6 745.5,304.3 745.5,307.0 745.6,309.7 745.7,312.4 745.8,315.1 746.0,317.8 756.4,317.4 756.3,314.7 756.2,312.0 756.1,309.3 756.0,306.7 756.0,304.0 755.9,301.4 755.9,298.8 755.9,296.1 755.8,293.5 755.8,290.9 755.9,288.3 755.9,285.7 755.9,283.1 756.0,280.5 756.0,278.0 756.1,275.4 756.2,272.8 756.3,270.3 756.4,267.7 756.6,265.2 756.7,262.6 756.9,260.1 757.0,257.6 757.2,255.1 757.4,252.6 757.6,250.1 757.9,247.6 758.1,245.1 758.4,242.6 758.6,240.2 758.9,237.7 759.2,235.2 759.5,232.8 759.8,230.3 760.2,227.9 760.5,225.5 760.9,223.0 761.2,220.6 761.6,218.2 762.0,215.8 762.4,213.4 762.8,211.0 763.3,208.7 763.1,206.2 763.0,203.7 762.8,201.2 762.6,198.7 762.4,196.1 762.1,193.6 761.6,191.0" fill="#2f78c8"/><polygon points="761.6,191.0 760.3,193.2 759.2,195.4 758.2,197.7 757.2,200.0 756.2,202.3 755.3,204.7 754.4,207.0 754.0,209.4 753.5,211.9 753.1,214.3 752.7,216.8 752.3,219.2 751.9,221.7 751.6,224.2 751.2,226.7 750.9,229.1 750.5,231.6 750.2,234.1 749.9,236.6 749.7,239.2 749.4,241.7 749.1,244.2 748.9,246.7 748.6,249.3 748.4,251.8 748.2,254.4 748.0,257.0 747.9,259.5 747.7,262.1 747.6,264.7 747.4,267.3 747.3,269.9 747.2,272.5 747.1,275.1 747.0,277.7 746.9,280.3 746.9,283.0 746.9,285.6 746.8,288.2 746.8,290.9 746.8,293.6 746.8,296.2 746.9,298.9 746.9,301.6 746.9,304.3 747.0,306.9 747.1,309.6 747.2,312.3 747.3,315.1 747.4,317.8 755.0,317.4 754.9,314.7 754.7,312.1 754.7,309.4 754.6,306.7 754.5,304.1 754.5,301.4 754.4,298.8 754.4,296.2 754.4,293.5 754.4,290.9 754.4,288.3 754.4,285.7 754.5,283.1 754.5,280.5 754.6,277.9 754.7,275.3 754.7,272.8 754.8,270.2 755.0,267.7 755.1,265.1 755.2,262.6 755.4,260.0 755.6,257.5 755.8,255.0 756.0,252.5 756.2,250.0 756.4,247.5 756.6,245.0 756.9,242.5 757.2,240.0 757.4,237.5 757.7,235.1 758.0,232.6 758.4,230.1 758.7,227.7 759.0,225.3 759.4,222.8 759.8,220.4 760.2,218.0 760.6,215.6 761.0,213.2 761.4,210.8 761.8,208.4 761.9,205.9 761.9,203.5 761.9,201.0 761.9,198.5 761.9,196.0 761.8,193.5 761.6,191.0" fill="url(#rgotex)" transform="translate(0.9 0.3)"/><polygon points="761.6,191.0 760.0,193.1 758.7,195.3 757.4,197.6 756.2,199.8 755.1,202.1 754.0,204.4 753.0,206.7 752.5,209.2 752.1,211.6 751.7,214.1 762.0,215.8 762.4,213.4 762.8,211.0 763.3,208.7 763.1,206.2 763.0,203.7 762.8,201.2 762.6,198.7 762.4,196.1 762.1,193.6 761.6,191.0" fill="#1f56b8" opacity="0.85"/>
<polygon points="801.8,191.0 799.8,192.9 798.1,195.0 796.4,197.1 794.9,199.3 793.4,201.5 791.9,203.7 790.5,205.9 789.7,208.4 789.0,210.8 788.2,213.3 787.5,215.8 786.8,218.2 786.1,220.7 785.5,223.2 784.8,225.7 784.2,228.2 783.5,230.7 782.9,233.2 782.3,235.8 781.8,238.3 781.2,240.8 780.7,243.4 780.1,245.9 779.6,248.5 779.1,251.1 778.6,253.6 778.2,256.2 777.7,258.8 777.3,261.4 776.9,264.0 776.5,266.6 776.1,269.2 775.7,271.8 775.4,274.5 775.0,277.1 774.7,279.7 774.4,282.4 774.1,285.0 773.8,287.7 773.6,290.4 773.3,293.0 773.1,295.7 772.9,298.4 772.7,301.1 772.5,303.8 772.4,306.5 772.2,309.2 772.1,311.9 772.0,314.7 771.9,317.4 783.5,317.8 783.6,315.1 783.8,312.5 783.9,309.8 784.0,307.2 784.2,304.5 784.4,301.9 784.6,299.3 784.8,296.7 785.0,294.1 785.2,291.5 785.5,288.9 785.7,286.3 786.0,283.7 786.3,281.1 786.6,278.5 787.0,276.0 787.3,273.4 787.7,270.9 788.0,268.3 788.4,265.8 788.8,263.3 789.3,260.8 789.7,258.2 790.2,255.7 790.6,253.2 791.1,250.8 791.6,248.3 792.1,245.8 792.6,243.3 793.2,240.9 793.7,238.4 794.3,235.9 794.9,233.5 795.5,231.1 796.1,228.6 796.8,226.2 797.4,223.8 798.1,221.4 798.8,219.0 799.5,216.6 800.2,214.2 800.9,211.8 801.7,209.5 801.8,206.9 801.9,204.3 802.0,201.7 802.1,199.1 802.1,196.5 802.1,193.8 801.8,191.0" fill="none" stroke="#1c2430" stroke-width="1.3" stroke-dasharray="1.3 1.1" opacity="0.55"/><polygon points="801.8,191.0 799.9,193.0 798.3,195.1 796.7,197.2 795.3,199.4 793.8,201.6 792.4,203.9 791.1,206.1 790.3,208.5 789.6,211.0 788.8,213.5 788.1,215.9 787.4,218.4 786.7,220.9 786.0,223.4 785.4,225.9 784.8,228.4 784.1,230.9 783.5,233.4 782.9,235.9 782.4,238.4 781.8,241.0 781.3,243.5 780.7,246.1 780.2,248.6 779.7,251.2 779.2,253.7 778.8,256.3 778.3,258.9 777.9,261.5 777.5,264.1 777.1,266.7 776.7,269.3 776.3,271.9 776.0,274.5 775.6,277.2 775.3,279.8 775.0,282.4 774.7,285.1 774.4,287.7 774.2,290.4 773.9,293.1 773.7,295.8 773.5,298.4 773.3,301.1 773.1,303.8 773.0,306.5 772.8,309.2 772.7,312.0 772.6,314.7 772.5,317.4 782.9,317.8 783.0,315.1 783.2,312.4 783.3,309.8 783.4,307.1 783.6,304.5 783.8,301.9 784.0,299.2 784.2,296.6 784.4,294.0 784.6,291.4 784.9,288.8 785.1,286.2 785.4,283.6 785.7,281.0 786.0,278.5 786.4,275.9 786.7,273.3 787.1,270.8 787.5,268.2 787.8,265.7 788.3,263.2 788.7,260.7 789.1,258.1 789.6,255.6 790.0,253.1 790.5,250.6 791.0,248.1 791.5,245.7 792.1,243.2 792.6,240.7 793.2,238.3 793.7,235.8 794.3,233.4 794.9,230.9 795.6,228.5 796.2,226.1 796.8,223.6 797.5,221.2 798.2,218.8 798.9,216.4 799.6,214.0 800.3,211.7 801.1,209.3 801.3,206.7 801.4,204.1 801.6,201.6 801.8,199.0 801.9,196.4 802.0,193.7 801.8,191.0" fill="#2f78c8"/><polygon points="801.8,191.0 800.2,193.1 798.8,195.3 797.4,197.5 796.1,199.7 794.9,202.0 793.7,204.3 792.5,206.5 791.7,209.0 791.0,211.4 790.2,213.9 789.5,216.3 788.8,218.8 788.1,221.3 787.5,223.7 786.8,226.2 786.2,228.7 785.6,231.2 785.0,233.7 784.4,236.2 783.8,238.7 783.2,241.3 782.7,243.8 782.2,246.3 781.7,248.9 781.2,251.4 780.7,254.0 780.2,256.6 779.8,259.1 779.3,261.7 778.9,264.3 778.5,266.9 778.1,269.5 777.8,272.1 777.4,274.7 777.1,277.3 776.8,280.0 776.5,282.6 776.2,285.2 775.9,287.9 775.6,290.5 775.4,293.2 775.2,295.9 775.0,298.6 774.8,301.2 774.6,303.9 774.4,306.6 774.3,309.3 774.1,312.0 774.0,314.7 773.9,317.5 781.5,317.7 781.6,315.1 781.7,312.4 781.8,309.7 782.0,307.1 782.1,304.4 782.3,301.8 782.5,299.1 782.7,296.5 782.9,293.9 783.2,291.3 783.4,288.6 783.7,286.0 784.0,283.5 784.3,280.9 784.6,278.3 784.9,275.7 785.3,273.1 785.6,270.6 786.0,268.0 786.4,265.5 786.8,262.9 787.2,260.4 787.7,257.9 788.1,255.4 788.6,252.9 789.1,250.4 789.6,247.9 790.1,245.4 790.6,242.9 791.2,240.4 791.7,237.9 792.3,235.5 792.9,233.0 793.5,230.6 794.1,228.1 794.8,225.7 795.4,223.3 796.1,220.8 796.8,218.4 797.5,216.0 798.2,213.6 798.9,211.2 799.7,208.8 800.0,206.3 800.4,203.8 800.7,201.3 801.1,198.7 801.4,196.2 801.7,193.6 801.8,191.0" fill="url(#rgotex)" transform="translate(0.9 0.3)"/><polygon points="801.8,191.0 799.9,193.0 798.3,195.1 796.7,197.2 795.3,199.4 793.8,201.6 792.4,203.9 791.1,206.1 790.3,208.5 789.6,211.0 788.8,213.5 798.9,216.4 799.6,214.0 800.3,211.7 801.1,209.3 801.3,206.7 801.4,204.1 801.6,201.6 801.8,199.0 801.9,196.4 802.0,193.7 801.8,191.0" fill="#1f56b8" opacity="0.85"/>
<polygon points="669.9,240.5 672.7,240.3 675.5,240.2 678.3,240.0 681.1,239.9 683.9,239.8 686.7,239.7 689.5,239.5 692.3,239.4 695.1,239.3 697.8,239.2 700.6,239.1 703.4,239.0 706.2,239.0 709.0,238.9 711.8,238.8 714.6,238.8 717.4,238.7 720.1,238.7 722.9,238.6 725.7,238.6 728.5,238.6 731.3,238.5 734.0,238.5 736.8,238.5 739.6,238.5 742.3,238.5 745.1,238.5 747.9,238.5 750.7,238.6 753.4,238.6 756.2,238.6 758.9,238.7 761.7,238.7 764.5,238.8 767.2,238.8 770.0,238.9 772.7,239.0 775.5,239.0 778.2,239.1 781.0,239.2 783.7,239.3 786.5,239.4 789.2,239.5 792.0,239.1 794.8,238.7 797.6,238.3 800.3,237.8 803.1,237.3 805.9,236.8 808.7,236.0 808.7,236.0 806.0,234.9 803.3,234.0 800.6,233.3 797.8,232.5 795.1,231.8 792.4,231.2 789.6,230.5 786.8,230.4 784.1,230.3 781.3,230.2 778.5,230.1 775.8,230.0 773.0,230.0 770.2,229.9 767.4,229.8 764.7,229.8 761.9,229.7 759.1,229.7 756.3,229.6 753.5,229.6 750.7,229.6 747.9,229.5 745.2,229.5 742.4,229.5 739.6,229.5 736.8,229.5 734.0,229.5 731.2,229.5 728.4,229.6 725.6,229.6 722.8,229.6 720.0,229.7 717.2,229.7 714.4,229.8 711.6,229.8 708.8,229.9 706.0,230.0 703.2,230.0 700.3,230.1 697.5,230.2 694.7,230.3 691.9,230.4 689.1,230.5 686.3,230.7 683.5,230.8 680.6,230.9 677.8,231.1 675.0,231.2 672.2,231.3 669.3,231.5" fill="none" stroke="#1c2430" stroke-width="1.3" stroke-dasharray="1.3 1.1" opacity="0.55"/><polygon points="669.8,239.9 672.6,239.7 675.4,239.6 678.2,239.4 681.0,239.3 683.8,239.2 686.6,239.1 689.4,238.9 692.2,238.8 695.0,238.7 697.8,238.6 700.6,238.5 703.4,238.4 706.2,238.4 709.0,238.3 711.8,238.2 714.6,238.2 717.3,238.1 720.1,238.1 722.9,238.0 725.7,238.0 728.5,238.0 731.2,237.9 734.0,237.9 736.8,237.9 739.6,237.9 742.3,237.9 745.1,237.9 747.9,237.9 750.7,238.0 753.4,238.0 756.2,238.0 759.0,238.1 761.7,238.1 764.5,238.2 767.2,238.2 770.0,238.3 772.8,238.4 775.5,238.4 778.3,238.5 781.0,238.6 783.8,238.7 786.5,238.8 789.3,238.9 792.0,238.6 794.8,238.3 797.6,237.9 800.3,237.5 803.1,237.1 805.9,236.7 808.7,236.0 808.7,236.0 806.0,235.0 803.3,234.3 800.6,233.6 797.8,232.9 795.1,232.3 792.3,231.7 789.6,231.1 786.8,231.0 784.1,230.9 781.3,230.8 778.5,230.7 775.7,230.6 773.0,230.6 770.2,230.5 767.4,230.4 764.6,230.4 761.9,230.3 759.1,230.3 756.3,230.2 753.5,230.2 750.7,230.2 747.9,230.1 745.2,230.1 742.4,230.1 739.6,230.1 736.8,230.1 734.0,230.1 731.2,230.1 728.4,230.2 725.6,230.2 722.8,230.2 720.0,230.3 717.2,230.3 714.4,230.4 711.6,230.4 708.8,230.5 706.0,230.6 703.2,230.6 700.4,230.7 697.6,230.8 694.7,230.9 691.9,231.0 689.1,231.1 686.3,231.3 683.5,231.4 680.7,231.5 677.8,231.7 675.0,231.8 672.2,231.9 669.4,232.1" fill="#2f78c8"/><polygon points="669.8,238.8 672.6,238.6 675.4,238.5 678.2,238.4 681.0,238.2 683.8,238.1 686.6,238.0 689.4,237.8 692.2,237.7 695.0,237.6 697.8,237.5 700.6,237.4 703.4,237.3 706.2,237.3 709.0,237.2 711.8,237.1 714.5,237.1 717.3,237.0 720.1,237.0 722.9,236.9 725.7,236.9 728.5,236.9 731.2,236.8 734.0,236.8 736.8,236.8 739.6,236.8 742.3,236.8 745.1,236.8 747.9,236.8 750.7,236.9 753.4,236.9 756.2,236.9 759.0,237.0 761.7,237.0 764.5,237.1 767.3,237.1 770.0,237.2 772.8,237.3 775.5,237.3 778.3,237.4 781.1,237.5 783.8,237.6 786.6,237.7 789.3,237.8 792.1,237.6 794.8,237.4 797.6,237.2 800.4,237.0 803.1,236.7 805.9,236.4 808.7,236.0 808.7,236.0 806.0,235.3 803.3,234.7 800.5,234.1 797.8,233.6 795.0,233.1 792.3,232.7 789.5,232.2 786.8,232.1 784.0,232.0 781.2,231.9 778.5,231.8 775.7,231.7 772.9,231.7 770.2,231.6 767.4,231.5 764.6,231.5 761.8,231.4 759.1,231.3 756.3,231.3 753.5,231.3 750.7,231.2 747.9,231.2 745.1,231.2 742.4,231.2 739.6,231.2 736.8,231.2 734.0,231.2 731.2,231.2 728.4,231.2 725.6,231.3 722.8,231.3 720.0,231.3 717.2,231.4 714.4,231.5 711.6,231.5 708.8,231.6 706.0,231.7 703.2,231.7 700.4,231.8 697.6,231.9 694.8,232.0 692.0,232.1 689.2,232.2 686.4,232.3 683.5,232.5 680.7,232.6 677.9,232.7 675.1,232.9 672.3,233.0 669.4,233.2" fill="url(#rgotex)" transform="translate(0.9 0.3)"/><polygon points="789.3,238.9 792.0,238.6 794.8,238.3 797.6,237.9 800.3,237.5 803.1,237.1 805.9,236.7 808.7,236.0 808.7,236.0 806.0,235.0 803.3,234.3 800.6,233.6 797.8,232.9 795.1,232.3 792.3,231.7 789.6,231.1" fill="#1f56b8" opacity="0.8"/>
<polygon points="667.7,284.2 670.6,283.9 673.5,283.7 676.4,283.4 679.2,283.2 682.1,283.0 685.0,282.8 687.9,282.6 690.7,282.4 693.6,282.3 696.5,282.1 699.3,281.9 702.2,281.8 705.0,281.7 707.9,281.6 710.7,281.5 713.5,281.4 716.4,281.3 719.2,281.3 722.0,281.2 724.9,281.2 727.7,281.1 730.5,281.1 733.3,281.1 736.2,281.1 739.0,281.1 741.8,281.2 744.6,281.2 747.4,281.2 750.2,281.3 753.0,281.4 755.8,281.5 758.6,281.6 761.3,281.7 764.1,281.8 766.9,281.9 769.7,282.1 772.4,282.2 775.2,282.4 778.0,282.6 780.7,282.7 783.5,282.9 786.3,283.2 789.0,283.4 791.8,283.1 794.6,282.8 797.4,282.5 800.2,282.2 803.0,281.8 805.8,281.4 808.7,280.8 808.7,280.8 806.1,279.6 803.4,278.6 800.7,277.6 798.0,276.8 795.2,276.0 792.5,275.2 789.8,274.4 787.0,274.2 784.2,274.0 781.4,273.8 778.6,273.6 775.8,273.4 773.0,273.2 770.2,273.1 767.3,272.9 764.5,272.8 761.7,272.7 758.9,272.6 756.1,272.5 753.2,272.4 750.4,272.3 747.6,272.2 744.7,272.2 741.9,272.2 739.0,272.1 736.2,272.1 733.3,272.1 730.5,272.1 727.6,272.1 724.8,272.2 721.9,272.2 719.0,272.3 716.2,272.3 713.3,272.4 710.4,272.5 707.5,272.6 704.6,272.7 701.8,272.8 698.9,273.0 696.0,273.1 693.1,273.3 690.2,273.4 687.3,273.6 684.4,273.8 681.5,274.0 678.6,274.2 675.6,274.5 672.7,274.7 669.8,275.0 666.9,275.2" fill="none" stroke="#1c2430" stroke-width="1.3" stroke-dasharray="1.3 1.1" opacity="0.55"/><polygon points="667.7,283.6 670.5,283.3 673.4,283.1 676.3,282.8 679.2,282.6 682.1,282.4 685.0,282.2 687.8,282.0 690.7,281.8 693.6,281.7 696.4,281.5 699.3,281.3 702.1,281.2 705.0,281.1 707.8,281.0 710.7,280.9 713.5,280.8 716.4,280.7 719.2,280.7 722.0,280.6 724.9,280.6 727.7,280.5 730.5,280.5 733.3,280.5 736.2,280.5 739.0,280.5 741.8,280.6 744.6,280.6 747.4,280.6 750.2,280.7 753.0,280.8 755.8,280.9 758.6,281.0 761.4,281.1 764.1,281.2 766.9,281.3 769.7,281.5 772.5,281.6 775.3,281.8 778.0,282.0 780.8,282.2 783.5,282.4 786.3,282.6 789.1,282.8 791.9,282.6 794.6,282.4 797.4,282.1 800.2,281.9 803.0,281.6 805.9,281.3 808.7,280.8 808.7,280.8 806.0,279.7 803.3,278.8 800.6,277.9 797.9,277.2 795.2,276.4 792.5,275.7 789.7,275.0 786.9,274.8 784.1,274.6 781.3,274.4 778.5,274.2 775.7,274.0 772.9,273.8 770.1,273.7 767.3,273.5 764.5,273.4 761.7,273.3 758.9,273.2 756.0,273.1 753.2,273.0 750.4,272.9 747.5,272.8 744.7,272.8 741.9,272.8 739.0,272.7 736.2,272.7 733.3,272.7 730.5,272.7 727.6,272.7 724.8,272.8 721.9,272.8 719.0,272.9 716.2,272.9 713.3,273.0 710.4,273.1 707.6,273.2 704.7,273.3 701.8,273.4 698.9,273.6 696.0,273.7 693.1,273.9 690.2,274.0 687.3,274.2 684.4,274.4 681.5,274.6 678.6,274.8 675.7,275.1 672.8,275.3 669.9,275.6 666.9,275.8" fill="#2f78c8"/><polygon points="667.6,282.5 670.5,282.2 673.3,282.0 676.2,281.7 679.1,281.5 682.0,281.3 684.9,281.1 687.8,280.9 690.6,280.7 693.5,280.6 696.4,280.4 699.2,280.3 702.1,280.1 704.9,280.0 707.8,279.9 710.7,279.8 713.5,279.7 716.3,279.6 719.2,279.6 722.0,279.5 724.9,279.5 727.7,279.4 730.5,279.4 733.3,279.4 736.2,279.4 739.0,279.4 741.8,279.5 744.6,279.5 747.4,279.6 750.2,279.6 753.0,279.7 755.8,279.8 758.6,279.9 761.4,280.0 764.2,280.1 767.0,280.2 769.8,280.4 772.5,280.5 775.3,280.7 778.1,280.9 780.9,281.1 783.6,281.3 786.4,281.5 789.2,281.7 791.9,281.6 794.7,281.5 797.5,281.4 800.3,281.3 803.1,281.2 805.9,281.1 808.7,280.8 808.7,280.8 806.0,279.9 803.3,279.2 800.6,278.5 797.9,277.9 795.1,277.2 792.4,276.7 789.6,276.1 786.8,275.9 784.0,275.7 781.3,275.5 778.5,275.3 775.7,275.1 772.9,274.9 770.1,274.8 767.3,274.6 764.4,274.5 761.6,274.4 758.8,274.3 756.0,274.2 753.2,274.1 750.4,274.0 747.5,273.9 744.7,273.9 741.9,273.8 739.0,273.8 736.2,273.8 733.3,273.8 730.5,273.8 727.6,273.8 724.8,273.9 721.9,273.9 719.1,273.9 716.2,274.0 713.3,274.1 710.5,274.2 707.6,274.3 704.7,274.4 701.8,274.5 699.0,274.6 696.1,274.8 693.2,275.0 690.3,275.1 687.4,275.3 684.5,275.5 681.6,275.7 678.7,275.9 675.8,276.1 672.9,276.4 670.0,276.6 667.0,276.9" fill="url(#rgotex)" transform="translate(0.9 0.3)"/><polygon points="789.1,282.8 791.9,282.6 794.6,282.4 797.4,282.1 800.2,281.9 803.0,281.6 805.9,281.3 808.7,280.8 808.7,280.8 806.0,279.7 803.3,278.8 800.6,277.9 797.9,277.2 795.2,276.4 792.5,275.7 789.7,275.0" fill="#1f56b8" opacity="0.8"/>
</g>
<text x="15.6" y="410.6" font-size="25" transform="translate(15.6 410.6) scale(1 1.2) translate(-15.6 -410.6)" fill="#000">b</text>
<g stroke="#0a0af0" stroke-width="3.5" fill="none">
 <line x1="28.8" y1="413.9" x2="234.8" y2="413.9" stroke-dasharray="13.4 6.62"/>
 <line x1="30.05" y1="418.2" x2="30.05" y2="645.2" stroke-dasharray="13.3 6.72"/>
 <line x1="233" y1="412.2" x2="233" y2="640.2" stroke-dasharray="13.1 6.92" stroke-dashoffset="5.3"/>
 <line x1="28.2" y1="643.5" x2="234.8" y2="643.5" stroke-dasharray="13.4 6.6" stroke-dashoffset="6.7"/>
</g>
<g stroke="#0a0af0" stroke-width="2.1" fill="none">
 <polyline points="729.9,385.8 86.2,385.8 87.4,412"/>
</g>
<rect x="728" y="364" width="3.8" height="22.8" fill="#0a0af0"/>
<polygon points="80.4,407.8 87.4,412 94.4,407 87.4,417" fill="#0a0af0"/>
<g stroke="#e5677b" stroke-width="3" fill="none">
 <line x1="641.7" y1="417.4" x2="848.1" y2="417.4" stroke-dasharray="13.2 6.8"/>
 <line x1="636.6" y1="416" x2="636.6" y2="649" stroke-dasharray="12.8 7.2"/>
 <line x1="847" y1="416.2" x2="847" y2="655.4" stroke-dasharray="12.7 7.3" stroke-dashoffset="7.2"/>
 <line x1="635" y1="653.6" x2="848.1" y2="653.6" stroke-dasharray="13.3 6.7"/>
</g>
<line x1="736.4" y1="362" x2="738.3" y2="412" stroke="#e5677b" stroke-width="2.8"/>
<polygon points="728.2,403.8 738.3,411.5 747.4,403.4 738.3,421.6" fill="#e5677b"/>
<circle cx="732" cy="355.7" r="11.4" fill="#e5677b" fill-opacity="0.9"/>

<pattern id="fibtex2" width="10" height="10" patternUnits="userSpaceOnUse"><rect width="10" height="10" fill="#5aaee0"/><rect x="0.9" y="9.5" width="2" height="0.9" fill="#a8e0f6" transform="rotate(27 0.9 9.5)"/><rect x="8.4" y="7.5" width="2" height="0.9" fill="#a8e0f6" transform="rotate(54 8.4 7.5)"/><rect x="9.2" y="9.2" width="2" height="0.9" fill="#3a7cc0" transform="rotate(156 9.2 9.2)"/><rect x="5.4" y="3.9" width="2" height="0.9" fill="#3a7cc0" transform="rotate(73 5.4 3.9)"/><rect x="9.9" y="7.7" width="2" height="0.9" fill="#a8e0f6" transform="rotate(7 9.9 7.7)"/><rect x="0.4" y="2.3" width="2" height="0.9" fill="#3a7cc0" transform="rotate(127 0.4 2.3)"/><rect x="8.4" y="0.5" width="2" height="0.9" fill="#3a7cc0" transform="rotate(42 8.4 0.5)"/><rect x="2.0" y="7.6" width="2" height="0.9" fill="#a8e0f6" transform="rotate(74 2.0 7.6)"/><rect x="3.3" y="0.1" width="2" height="0.9" fill="#3a7cc0" transform="rotate(149 3.3 0.1)"/><rect x="3.1" y="3.6" width="2" height="0.9" fill="#3a7cc0" transform="rotate(37 3.1 3.6)"/><rect x="1.8" y="1.6" width="2" height="0.9" fill="#8fd4f2" transform="rotate(56 1.8 1.6)"/><rect x="4.4" y="3.0" width="2" height="0.9" fill="#3a7cc0" transform="rotate(23 4.4 3.0)"/><rect x="8.3" y="5.9" width="2" height="0.9" fill="#3a7cc0" transform="rotate(133 8.3 5.9)"/><rect x="8.2" y="8.9" width="2" height="0.9" fill="#a8e0f6" transform="rotate(46 8.2 8.9)"/><rect x="3.0" y="2.7" width="2" height="0.9" fill="#3a7cc0" transform="rotate(15 3.0 2.7)"/><rect x="7.9" y="5.0" width="2" height="0.9" fill="#a8e0f6" transform="rotate(12 7.9 5.0)"/><rect x="5.5" y="1.2" width="2" height="0.9" fill="#3a7cc0" transform="rotate(40 5.5 1.2)"/><rect x="4.7" y="1.7" width="2" height="0.9" fill="#8fd4f2" transform="rotate(50 4.7 1.7)"/><rect x="8.0" y="7.3" width="2" height="0.9" fill="#3a7cc0" transform="rotate(64 8.0 7.3)"/><rect x="3.2" y="3.5" width="2" height="0.9" fill="#2a5f9a" transform="rotate(162 3.2 3.5)"/><rect x="0.4" y="7.1" width="2" height="0.9" fill="#a8e0f6" transform="rotate(36 0.4 7.1)"/><rect x="4.7" y="2.9" width="2" height="0.9" fill="#a8e0f6" transform="rotate(95 4.7 2.9)"/><rect x="6.5" y="2.1" width="2" height="0.9" fill="#8fd4f2" transform="rotate(169 6.5 2.1)"/><rect x="1.8" y="2.1" width="2" height="0.9" fill="#a8e0f6" transform="rotate(179 1.8 2.1)"/><rect x="4.5" y="6.5" width="2" height="0.9" fill="#2a5f9a" transform="rotate(2 4.5 6.5)"/><rect x="5.6" y="6.0" width="2" height="0.9" fill="#3a7cc0" transform="rotate(46 5.6 6.0)"/><rect x="2.1" y="6.7" width="2" height="0.9" fill="#3a7cc0" transform="rotate(171 2.1 6.7)"/><rect x="2.0" y="8.7" width="2" height="0.9" fill="#2a5f9a" transform="rotate(37 2.0 8.7)"/><rect x="7.1" y="2.2" width="2" height="0.9" fill="#3a7cc0" transform="rotate(145 7.1 2.2)"/><rect x="6.1" y="7.7" width="2" height="0.9" fill="#2a5f9a" transform="rotate(141 6.1 7.7)"/></pattern>
<g transform="translate(441.3 542.4) rotate(-48.9)">
 <ellipse cx="0" cy="0" rx="169.2" ry="134.8" fill="#cdd6e1"/>
</g>
<g transform="translate(438.3 539.6) rotate(-48.9)">
 <ellipse cx="0" cy="0" rx="166" ry="131" fill="#dfe9f5"/>
</g>

<g stroke="#0ca84a" stroke-width="3.4" fill="none">
 <line x1="297" y1="626.5" x2="323" y2="600"/>
 <line x1="318" y1="658" x2="404" y2="569"/>
 <line x1="349" y1="681" x2="380" y2="647"/>
 <line x1="387.5" y1="533.7" x2="428" y2="485"/>
 <line x1="442.7" y1="582.8" x2="482.3" y2="538.6"/>
 <line x1="493.5" y1="422.8" x2="541" y2="373.4"/>
 <line x1="547" y1="474.4" x2="593.4" y2="426.4"/>
 <line x1="534" y1="405" x2="553.5" y2="385"/>
 <line x1="550" y1="417" x2="568.3" y2="397.7"/>
 <line x1="564" y1="431" x2="582.2" y2="411.6"/>
 <line x1="410" y1="467.6" x2="425.6" y2="467.6"/>
 <line x1="450" y1="486" x2="451.2" y2="500.2"/>
 <line x1="469.9" y1="518.9" x2="480.3" y2="517.7"/>
 <line x1="502.6" y1="542" x2="504.1" y2="552.1"/>
 <polyline points="465.8,622.7 470.4,667.2 476.5,678"/>
 <line x1="303.7" y1="515.9" x2="347" y2="519.4"/>
</g>

<polygon points="453.4,418.0 493.4,420.0 499.9,460.0 471.9,489.0 430.4,487.0 425.4,449.0" fill="#858585"/>
<polygon points="450.9,415.5 490.9,417.5 497.4,457.5 469.4,486.5 427.9,484.5 422.9,446.5" fill="url(#hexg)"/>
<polygon points="371.6,452.9 411.6,454.9 418.1,494.9 390.1,523.9 348.6,521.9 343.6,483.9" fill="#858585"/>
<polygon points="369.1,450.4 409.1,452.4 415.6,492.4 387.6,521.4 346.1,519.4 341.1,481.4" fill="url(#hexg)"/>
<polygon points="509.3,472.8 549.3,474.8 555.8,514.8 527.8,543.8 486.3,541.8 481.3,503.8" fill="#858585"/>
<polygon points="506.8,470.3 546.8,472.3 553.3,512.3 525.3,541.3 483.8,539.3 478.8,501.3" fill="url(#hexg)"/>
<polygon points="428.8,502.3 468.8,504.3 475.3,544.3 447.3,573.3 405.8,571.3 400.8,533.3" fill="#858585"/>
<polygon points="426.3,499.8 466.3,501.8 472.8,541.8 444.8,570.8 403.3,568.8 398.3,530.8" fill="url(#hexg)"/>
<polygon points="348.8,533.5 388.8,535.5 395.3,575.5 367.3,604.5 325.8,602.5 320.8,564.5" fill="#858585"/>
<polygon points="346.3,531.0 386.3,533.0 392.8,573.0 364.8,602.0 323.3,600.0 318.3,562.0" fill="url(#hexg)"/>
<polygon points="487.3,554.4 527.3,556.4 533.8,596.4 505.8,625.4 464.3,623.4 459.3,585.4" fill="#858585"/>
<polygon points="484.8,551.9 524.8,553.9 531.3,593.9 503.3,622.9 461.8,620.9 456.8,582.9" fill="url(#hexg)"/>
<polygon points="404.8,581.6 444.8,583.6 451.3,623.6 423.3,652.6 381.8,650.6 376.8,612.6" fill="#858585"/>
<polygon points="402.3,579.1 442.3,581.1 448.8,621.1 420.8,650.1 379.3,648.1 374.3,610.1" fill="url(#hexg)"/>
<clipPath id="h2c"><polygon points="369.1,450.4 409.1,452.4 415.6,492.4 387.6,521.4 346.1,519.4 341.1,481.4"/></clipPath>
<clipPath id="h4c"><polygon points="426.3,499.8 466.3,501.8 472.8,541.8 444.8,570.8 403.3,568.8 398.3,530.8"/></clipPath>
<clipPath id="h6c"><polygon points="484.8,551.9 524.8,553.9 531.3,593.9 503.3,622.9 461.8,620.9 456.8,582.9"/></clipPath>
<g clip-path="url(#h2c)"><g transform="translate(379 485) rotate(45)">
<rect x="-31" y="-9" width="62" height="18" fill="#f7ebcf"/>
<rect x="-9.5" y="-9.5" width="19" height="19" fill="#4c4c4c"/>
</g></g>
<g clip-path="url(#h4c)"><g transform="translate(434 535.5) rotate(45)">
<rect x="-31" y="-9" width="62" height="18" fill="#ebebeb"/>
<line x1="-33" y1="0" x2="33" y2="0" stroke="#222" stroke-width="0.8"/>
<rect x="-9.5" y="-9.5" width="19" height="19" fill="#4c4c4c"/>
</g></g>
<g clip-path="url(#h6c)"><g transform="translate(494.5 588) rotate(45)">
<rect x="-31" y="-9" width="62" height="18" fill="#f7ebcf"/>
<rect x="-9.5" y="-9.5" width="19" height="19" fill="#4c4c4c"/>
</g></g>
<rect x="232" y="467.3" width="84" height="5.3" fill="#0a0af0"/>
<polygon points="284.8,456.7 305.3,456.7 343.2,469.8 305.3,484 284.1,484 314.4,470" fill="#0a0af0"/>
<polygon points="636,496.9 636,502 578,500.5 578,495.6" fill="#e5677b"/>
<polygon points="556.9,498 587,486.8 598.1,486.8 578,498 598.1,512 587,512" fill="#e5677b"/>

<g>
 <polygon points="66.6,473 147.4,447.1 157.4,451.5 213.8,509.1 196.1,588.6 115.3,617.4 104.2,612.9 47.8,554.3" fill="#94bfea" filter="url(#blur3)"/>
 <polygon points="148,419.4 167.3,424.5 164,438 144.5,433" fill="#dedede" stroke="#b4b4b4" stroke-width="0.8"/>
 <polygon points="142,428 161.5,433 157,452 137,447" fill="#d6d6d6" stroke="#b4b4b4" stroke-width="0.8"/>
 <polygon points="96,607 118.3,615 115.5,627 93,620" fill="#d6d6d6" stroke="#b4b4b4" stroke-width="0.8"/>
 <polygon points="93,620 115.5,627 113,640 90.6,633" fill="#dedede" stroke="#b4b4b4" stroke-width="0.8"/>
 <polygon points="66.6,473 147.4,447.1 157.4,451.5 213.8,509.1 196.1,588.6 115.3,617.4 104.2,612.9 47.8,554.3" fill="#7895b2"/>
 <polygon points="66.6,473 147.4,447.1 205,505.8" fill="#bcd2e9"/>
 <polygon points="66.6,473 205,505.8 188.4,583 47.8,554.3" fill="#b8d0e9"/>
 <polygon points="66.6,473 73,475.5 56,553 47.8,554.3" fill="#d2e3f4"/>
 <polygon points="73,475.5 205,505.8 203,510 72,480" fill="#c9dcf0"/>
 <polygon points="47.8,554.3 188.4,583 104.2,612.9" fill="#a8c2dc"/>
 <polygon points="47.8,554.3 188.4,583 186,587 50,558" fill="#c2d6ea"/>
</g>

<g stroke="#3f88c8" stroke-width="3.6" fill="none" opacity="0.95"><path d="M106.0,478.0 Q92.4,520.0 86.0,563.0"/><path d="M115.4,479.9 Q104.0,522.1 96.0,565.3"/><path d="M124.9,481.7 Q112.6,524.1 106.0,567.6"/><path d="M134.3,483.6 Q123.8,526.2 116.0,569.9"/><path d="M143.7,485.4 Q133.6,528.3 126.0,572.1"/><path d="M153.1,487.3 Q140.0,530.4 136.0,574.4"/><path d="M162.6,489.1 Q149.4,532.4 146.0,576.7"/><path d="M172.0,491.0 Q164.0,534.5 156.0,579.0"/><path d="M92.0,486.0 Q134.6,488.4 182.0,499.0"/><path d="M89.9,494.2 Q137.2,497.7 180.5,507.4"/><path d="M87.8,502.5 Q134.4,506.0 179.0,515.8"/><path d="M85.6,510.8 Q131.4,513.0 177.5,524.1"/><path d="M83.5,519.0 Q129.6,524.2 176.0,532.5"/><path d="M81.4,527.2 Q127.1,532.0 174.5,540.9"/><path d="M79.2,535.5 Q126.2,537.6 173.0,549.2"/><path d="M77.1,543.8 Q124.9,548.1 171.5,557.6"/><path d="M75.0,552.0 Q120.3,554.1 170.0,566.0"/></g>
<g stroke="url(#fibtex2)" stroke-width="2.2" fill="none"><path d="M106.0,478.0 Q92.4,520.0 86.0,563.0"/><path d="M115.4,479.9 Q104.0,522.1 96.0,565.3"/><path d="M124.9,481.7 Q112.6,524.1 106.0,567.6"/><path d="M134.3,483.6 Q123.8,526.2 116.0,569.9"/><path d="M143.7,485.4 Q133.6,528.3 126.0,572.1"/><path d="M153.1,487.3 Q140.0,530.4 136.0,574.4"/><path d="M162.6,489.1 Q149.4,532.4 146.0,576.7"/><path d="M172.0,491.0 Q164.0,534.5 156.0,579.0"/><path d="M92.0,486.0 Q134.6,488.4 182.0,499.0"/><path d="M89.9,494.2 Q137.2,497.7 180.5,507.4"/><path d="M87.8,502.5 Q134.4,506.0 179.0,515.8"/><path d="M85.6,510.8 Q131.4,513.0 177.5,524.1"/><path d="M83.5,519.0 Q129.6,524.2 176.0,532.5"/><path d="M81.4,527.2 Q127.1,532.0 174.5,540.9"/><path d="M79.2,535.5 Q126.2,537.6 173.0,549.2"/><path d="M77.1,543.8 Q124.9,548.1 171.5,557.6"/><path d="M75.0,552.0 Q120.3,554.1 170.0,566.0"/></g>
<pattern id="fibtex" width="12" height="12" patternUnits="userSpaceOnUse"><rect width="12" height="12" fill="#45a2cc"/><rect x="9.6" y="3.9" width="2.2" height="0.9" fill="#1f3447" transform="rotate(43 9.6 3.9)"/><rect x="3.5" y="11.4" width="2.2" height="0.9" fill="#2a4258" transform="rotate(180 3.5 11.4)"/><rect x="1.7" y="7.6" width="2.2" height="0.9" fill="#7fd6ee" transform="rotate(90 1.7 7.6)"/><rect x="0.3" y="11.5" width="2.2" height="0.9" fill="#2a4258" transform="rotate(31 0.3 11.5)"/><rect x="6.1" y="10.0" width="2.2" height="0.9" fill="#7fd6ee" transform="rotate(33 6.1 10.0)"/><rect x="1.4" y="6.6" width="2.2" height="0.9" fill="#9be3f4" transform="rotate(47 1.4 6.6)"/><rect x="2.5" y="2.3" width="2.2" height="0.9" fill="#2a4258" transform="rotate(15 2.5 2.3)"/><rect x="8.4" y="10.8" width="2.2" height="0.9" fill="#2e6db5" transform="rotate(107 8.4 10.8)"/><rect x="0.9" y="10.1" width="2.2" height="0.9" fill="#3c8fc4" transform="rotate(177 0.9 10.1)"/><rect x="2.5" y="3.9" width="2.2" height="0.9" fill="#2e6db5" transform="rotate(16 2.5 3.9)"/><rect x="5.5" y="1.0" width="2.2" height="0.9" fill="#2e6db5" transform="rotate(141 5.5 1.0)"/><rect x="11.7" y="3.3" width="2.2" height="0.9" fill="#2e6db5" transform="rotate(113 11.7 3.3)"/><rect x="11.7" y="4.2" width="2.2" height="0.9" fill="#9be3f4" transform="rotate(95 11.7 4.2)"/><rect x="9.0" y="11.4" width="2.2" height="0.9" fill="#2a4258" transform="rotate(96 9.0 11.4)"/><rect x="6.9" y="4.8" width="2.2" height="0.9" fill="#9be3f4" transform="rotate(25 6.9 4.8)"/><rect x="0.2" y="11.8" width="2.2" height="0.9" fill="#3c8fc4" transform="rotate(9 0.2 11.8)"/><rect x="0.5" y="4.3" width="2.2" height="0.9" fill="#1f3447" transform="rotate(178 0.5 4.3)"/><rect x="3.1" y="6.0" width="2.2" height="0.9" fill="#9be3f4" transform="rotate(101 3.1 6.0)"/><rect x="0.7" y="5.7" width="2.2" height="0.9" fill="#1f3447" transform="rotate(125 0.7 5.7)"/><rect x="1.8" y="6.4" width="2.2" height="0.9" fill="#9be3f4" transform="rotate(3 1.8 6.4)"/><rect x="11.0" y="11.1" width="2.2" height="0.9" fill="#2e6db5" transform="rotate(135 11.0 11.1)"/><rect x="0.0" y="9.5" width="2.2" height="0.9" fill="#1f3447" transform="rotate(26 0.0 9.5)"/><rect x="8.4" y="2.9" width="2.2" height="0.9" fill="#9be3f4" transform="rotate(120 8.4 2.9)"/><rect x="1.4" y="4.7" width="2.2" height="0.9" fill="#2a4258" transform="rotate(86 1.4 4.7)"/><rect x="2.9" y="2.5" width="2.2" height="0.9" fill="#2a4258" transform="rotate(151 2.9 2.5)"/><rect x="2.0" y="0.3" width="2.2" height="0.9" fill="#2a4258" transform="rotate(172 2.0 0.3)"/><rect x="8.0" y="9.2" width="2.2" height="0.9" fill="#2e6db5" transform="rotate(174 8.0 9.2)"/><rect x="8.5" y="7.2" width="2.2" height="0.9" fill="#7fd6ee" transform="rotate(88 8.5 7.2)"/><rect x="7.2" y="10.6" width="2.2" height="0.9" fill="#9be3f4" transform="rotate(85 7.2 10.6)"/><rect x="3.5" y="3.3" width="2.2" height="0.9" fill="#2a4258" transform="rotate(82 3.5 3.3)"/><rect x="0.2" y="5.8" width="2.2" height="0.9" fill="#3c8fc4" transform="rotate(6 0.2 5.8)"/><rect x="1.7" y="1.1" width="2.2" height="0.9" fill="#2e6db5" transform="rotate(158 1.7 1.1)"/><rect x="2.4" y="1.0" width="2.2" height="0.9" fill="#1f3447" transform="rotate(77 2.4 1.0)"/><rect x="11.4" y="4.6" width="2.2" height="0.9" fill="#9be3f4" transform="rotate(83 11.4 4.6)"/><rect x="6.4" y="9.8" width="2.2" height="0.9" fill="#3c8fc4" transform="rotate(72 6.4 9.8)"/><rect x="5.1" y="3.0" width="2.2" height="0.9" fill="#1f3447" transform="rotate(156 5.1 3.0)"/><rect x="10.3" y="3.9" width="2.2" height="0.9" fill="#7fd6ee" transform="rotate(164 10.3 3.9)"/><rect x="11.6" y="9.1" width="2.2" height="0.9" fill="#9be3f4" transform="rotate(180 11.6 9.1)"/><rect x="11.8" y="9.2" width="2.2" height="0.9" fill="#9be3f4" transform="rotate(118 11.8 9.2)"/><rect x="6.1" y="4.8" width="2.2" height="0.9" fill="#9be3f4" transform="rotate(156 6.1 4.8)"/></pattern>
<polygon points="679.1,500.9 660.6,556.6 722.8,622.8 816.9,606.9 839.4,524.8 826,540" fill="#6a6a6a" transform="translate(4 4)" filter="url(#blur2)"/>
<polygon points="679.1,500.9 660.6,556.6 722.8,622.8 816.9,606.9 839.4,524.8 826,540" fill="#fff"/>
<clipPath id="scb"><polygon points="679.1,500.9 660.6,556.6 722.8,622.8 816.9,606.9 839.4,524.8 826,540"/></clipPath>
<g clip-path="url(#scb)" stroke="url(#fibtex)" stroke-width="3.2" fill="none"><path d="M655,478.0 Q745,493.1 845,506.4"/><path d="M655,490.2 Q745,501.9 845,517.4"/><path d="M655,502.4 Q745,518.4 845,528.5"/><path d="M655,514.6 Q745,521.7 845,539.9"/><path d="M655,526.8 Q745,534.9 845,551.9"/><path d="M655,539.0 Q745,547.5 845,564.6"/><path d="M655,551.2 Q745,559.4 845,575.1"/><path d="M655,563.4 Q745,574.8 845,588.9"/><path d="M655,575.6 Q745,581.6 845,600.2"/><path d="M655,587.8 Q745,598.5 845,612.4"/><path d="M655,600.0 Q745,613.4 845,626.1"/><path d="M655,612.2 Q745,624.1 845,641.6"/><path d="M696.0,490 Q659.8,560 660.0,632"/><path d="M713.0,490 Q688.1,560 677.0,632"/><path d="M730.0,490 Q705.6,560 694.0,632"/><path d="M747.0,490 Q716.1,560 711.0,632"/><path d="M764.0,490 Q737.8,560 728.0,632"/><path d="M781.0,490 Q748.4,560 745.0,632"/><path d="M798.0,490 Q776.5,560 762.0,632"/><path d="M815.0,490 Q792.0,560 779.0,632"/><path d="M832.0,490 Q808.3,560 796.0,632"/><path d="M849.0,490 Q828.2,560 813.0,632"/><path d="M866.0,490 Q832.2,560 830.0,632"/><path d="M790,530 Q745,580 760,632"/><path d="M700,505 Q690,560 735,630"/></g>
<polyline points="679.1,500.9 660.6,556.6 722.8,622.8 816.9,606.9 839.4,524.8 834,534" fill="none" stroke="#000" stroke-width="2.2" stroke-linejoin="round"/>
<path d="M652.6,466.5 L729.5,450.1 L737.4,454.6 L803.6,524.8 Q808,538 820,545 Q790,528 745,515 Q700,506 679.1,500.9 Q662,490 656,478 Q653,472 652.6,466.5 Z" fill="#fff"/>
<clipPath id="scf"><path d="M652.6,466.5 L729.5,450.1 L737.4,454.6 L803.6,524.8 Q808,538 820,545 Q790,528 745,515 Q700,506 679.1,500.9 Q662,490 656,478 Q653,472 652.6,466.5 Z"/></clipPath>
<g clip-path="url(#scf)" stroke="url(#fibtex)" stroke-width="3.2" fill="none"><path d="M648.0,440 Q658.5,480 683.0,530"/><path d="M663.0,440 Q675.8,480 698.0,530"/><path d="M678.0,440 Q691.6,480 713.0,530"/><path d="M693.0,440 Q701.7,480 728.0,530"/><path d="M708.0,440 Q713.7,480 743.0,530"/><path d="M723.0,440 Q734.5,480 758.0,530"/><path d="M738.0,440 Q743.3,480 773.0,530"/><path d="M753.0,440 Q765.5,480 788.0,530"/><path d="M768.0,440 Q772.1,480 803.0,530"/><path d="M783.0,440 Q792.5,480 818.0,530"/><path d="M645,466.0 Q735,456.0 825,511.0"/><path d="M645,476.0 Q735,466.0 825,521.0"/><path d="M645,486.0 Q735,476.0 825,531.0"/><path d="M645,496.0 Q735,486.0 825,541.0"/><path d="M645,506.0 Q735,496.0 825,551.0"/><path d="M645,516.0 Q735,506.0 825,561.0"/></g>
<path d="M679.1,500.9 Q662,490 656,478 Q653,472 652.6,466.5 L729.5,450.1 L737.4,454.6" fill="none" stroke="#000" stroke-width="2.2" stroke-linejoin="round"/>
<path d="M737.4,454.6 L775.8,447.4 L840.7,514.2 L836.8,532.7 Q833,548 824.8,546 Q814,543 811.6,539.3 Q806,532 803.6,524.8 Z" fill="#5b9bd5" stroke="#000" stroke-width="2.4" stroke-linejoin="round"/>
<path d="M655.5,496.5 Q640,505 645,521" stroke="#000" stroke-width="3.8" fill="none"/>
<polygon points="641,519 656,516.5 651.5,527.5" fill="#000"/>

<rect x="140.3" y="628.7" width="69.2" height="22.9" fill="#d3c0a6"/>
<text x="148.5" y="646.4" font-size="20" transform="translate(148.5 646.4) scale(1 1.08) translate(-148.5 -646.4)" fill="#2eaa48">Sensor</text>
<rect x="670.2" y="638.9" width="143.8" height="24.7" fill="#d3c0a6"/>
<text x="672.6" y="656.5" font-size="20.2" fill="#e5677b">Supercapacitors</text>
</svg>
</body></html>
